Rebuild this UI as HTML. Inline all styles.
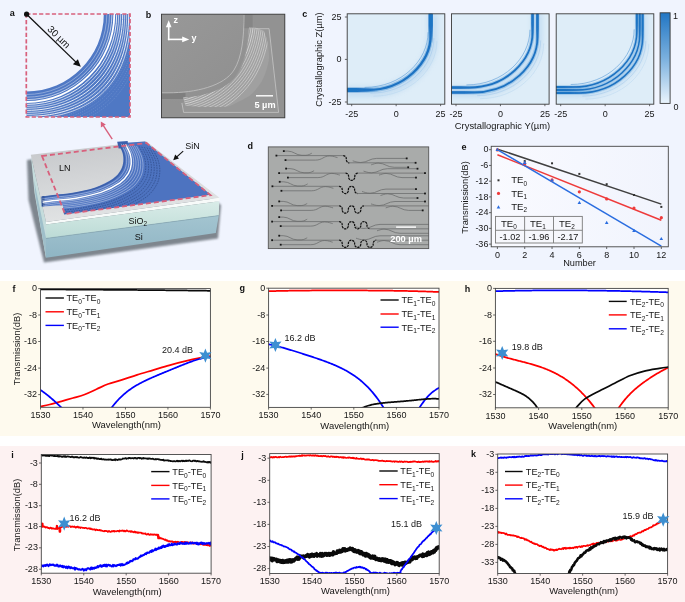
<!DOCTYPE html><html><head><meta charset="utf-8"><style>html,body{margin:0;padding:0;background:#fff;}svg{display:block;will-change:transform;}</style></head><body><svg width="685" height="602" viewBox="0 0 685 602" font-family='"Liberation Sans", sans-serif'>
<defs><filter id="blur1" filterUnits="userSpaceOnUse" x="-50" y="-50" width="800" height="700"><feGaussianBlur stdDeviation="0.7"/></filter><filter id="blur2" filterUnits="userSpaceOnUse" x="-50" y="-50" width="800" height="700"><feGaussianBlur stdDeviation="1.3"/></filter><filter id="blur3" filterUnits="userSpaceOnUse" x="-50" y="-50" width="800" height="700"><feGaussianBlur stdDeviation="2.5"/></filter><filter id="blur05" filterUnits="userSpaceOnUse" x="-50" y="-50" width="800" height="700"><feGaussianBlur stdDeviation="0.45"/></filter><linearGradient id="cbar" x1="0" y1="0" x2="0" y2="1"><stop offset="0" stop-color="#2276c4"/><stop offset="0.5" stop-color="#7ab0de"/><stop offset="1" stop-color="#eaf4fc"/></linearGradient><linearGradient id="topface" x1="0" y1="0" x2="0.3" y2="1"><stop offset="0" stop-color="#c4c6c9"/><stop offset="1" stop-color="#e2e4e5"/></linearGradient><linearGradient id="sio2" x1="0" y1="0" x2="0" y2="1"><stop offset="0" stop-color="#d9ece8"/><stop offset="1" stop-color="#bcdbd6"/></linearGradient><linearGradient id="si" x1="0" y1="0" x2="0" y2="1"><stop offset="0" stop-color="#a3c4d0"/><stop offset="1" stop-color="#8fb5c4"/></linearGradient><linearGradient id="eplot" x1="0" y1="0" x2="1" y2="0"><stop offset="0" stop-color="#f9faff"/><stop offset="1" stop-color="#f1f4fd"/></linearGradient><linearGradient id="semg" x1="0" y1="0" x2="1" y2="1"><stop offset="0" stop-color="#989898"/><stop offset="1" stop-color="#8c8c8c"/></linearGradient></defs>
<rect x="0" y="0" width="685" height="602" fill="#ffffff"/>
<rect x="0" y="0" width="685" height="270" fill="#f0f4fe"/>
<rect x="0" y="281" width="685" height="155" fill="#fefaee"/>
<rect x="0" y="446" width="685" height="156" fill="#fdf2f2"/>
<text x="9.8" y="15.7" font-size="9" text-anchor="start" font-weight="bold" fill="#111" >a</text>
<clipPath id="clipins"><rect x="26.3" y="14.0" width="103.7" height="103.0"/></clipPath>
<rect x="26.3" y="14.0" width="103.7" height="103.0" fill="#f1f4fd"/>
<g clip-path="url(#clipins)">
<path d="M26.3,91.5 C69.10325,91.5 103.8,56.80325 103.8,14.0 L132.0,14.0 L132.0,119.0 L26.3,119.0 Z" fill="#4f78c4"/>
<path d="M26.3,117.0 C88.1,117.0 129.3,75.8 129.3,14.0" fill="none" stroke="#9cb3e0" stroke-width="0.7" stroke-dasharray="1.0,1.4" opacity="0.5"/>
<path d="M26.3,119.3 C90.1,119.3 131.6,77.8 131.6,14.0" fill="none" stroke="#9cb3e0" stroke-width="0.7" stroke-dasharray="1.0,1.4" opacity="0.5"/>
<path d="M26.3,121.6 C92.2,121.6 133.9,79.9 133.9,14.0" fill="none" stroke="#9cb3e0" stroke-width="0.7" stroke-dasharray="1.0,1.4" opacity="0.5"/>
<path d="M26.3,123.9 C94.2,123.9 136.2,81.9 136.2,14.0" fill="none" stroke="#9cb3e0" stroke-width="0.7" stroke-dasharray="1.0,1.4" opacity="0.5"/>
<path d="M26.3,126.2 C96.3,126.2 138.5,84.0 138.5,14.0" fill="none" stroke="#9cb3e0" stroke-width="0.7" stroke-dasharray="1.0,1.4" opacity="0.5"/>
<path d="M26.3,128.5 C98.4,128.5 140.8,86.1 140.8,14.0" fill="none" stroke="#9cb3e0" stroke-width="0.7" stroke-dasharray="1.0,1.4" opacity="0.5"/>
<path d="M26.3,130.8 C100.6,130.8 143.1,88.3 143.1,14.0" fill="none" stroke="#9cb3e0" stroke-width="0.7" stroke-dasharray="1.0,1.4" opacity="0.5"/>
<path d="M26.3,94.50 C70.76,94.50 106.80,58.46 106.80,14.0" fill="none" stroke="#ffffff" stroke-width="0.7" opacity="0.5"/>
<path d="M26.3,97.20 C72.25,97.20 109.50,59.95 109.50,14.0" fill="none" stroke="#ffffff" stroke-width="0.7" opacity="0.6"/>
<path d="M26.3,99.60 C73.58,99.60 111.90,61.28 111.90,14.0" fill="none" stroke="#ffffff" stroke-width="0.8" opacity="0.8"/>
<path d="M26.3,102.00 C74.90,102.00 114.30,62.60 114.30,14.0" fill="none" stroke="#ffffff" stroke-width="1.8" opacity="1.0"/>
<path d="M26.3,104.40 C77.10,104.40 116.70,64.80 116.70,14.0" fill="none" stroke="#ffffff" stroke-width="0.95" opacity="0.9"/>
<path d="M26.3,106.40 C79.38,106.40 118.70,67.08 118.70,14.0" fill="none" stroke="#ffffff" stroke-width="0.7" opacity="0.9"/>
<path d="M26.3,108.40 C81.71,108.40 120.70,69.41 120.70,14.0" fill="none" stroke="#ffffff" stroke-width="0.7" opacity="0.9"/>
<path d="M26.3,110.40 C84.09,110.40 122.70,71.79 122.70,14.0" fill="none" stroke="#ffffff" stroke-width="0.95" opacity="0.9"/>
<path d="M26.3,112.40 C86.52,112.40 124.70,74.22 124.70,14.0" fill="none" stroke="#ffffff" stroke-width="0.7" opacity="0.9"/>
<path d="M26.3,114.40 C89.00,114.40 126.70,76.70 126.70,14.0" fill="none" stroke="#ffffff" stroke-width="0.7" opacity="0.9"/>
<path d="M26.3,116.40 C91.53,116.40 128.70,79.23 128.70,14.0" fill="none" stroke="#ffffff" stroke-width="0.95" opacity="0.9"/>
<path d="M26.3,118.40 C94.11,118.40 130.70,81.81 130.70,14.0" fill="none" stroke="#ffffff" stroke-width="0.7" opacity="0.9"/>
</g>
<rect x="26.3" y="14.0" width="103.7" height="103.0" fill="none" stroke="#d8607c" stroke-width="1.7" stroke-dasharray="4.2,2.2"/>
<circle cx="26.6" cy="14.2" r="2.6" fill="#111"/>
<line x1="26.6" y1="14.2" x2="76.5" y2="62.6" stroke="#111" stroke-width="1.3"/>
<polygon points="80.8,66.8 72.9,64.2 77.9,59.2" fill="#111"/>
<text x="0" y="0" font-size="9.8" fill="#111" text-anchor="middle" transform="translate(56.6,39.4) rotate(44)">30 µm</text>
<line x1="112.2" y1="139.2" x2="103.2" y2="125.4" stroke="#d8607c" stroke-width="1.4"/>
<polygon points="100.8,121.6 100.9,127.6 105.8,124.4" fill="#d8607c"/>
<polygon points="27.00,160.00 140.00,146.00 221.00,205.00 218.00,238.50 44.00,262.50 28.50,200.00" fill="#4f5861" opacity="0.7" filter="url(#blur2)"/>
<polygon points="30.80,154.70 46.00,222.00 46.00,258.00 34.50,193.00" fill="#c5dcdc"/>
<polygon points="34.00,180.00 46.00,238.00 46.00,258.00 35.50,196.00" fill="#9fbfca"/>
<polygon points="46.00,222.00 219.50,197.80 219.30,201.20 46.00,224.60" fill="#f7faf9"/>
<polygon points="46.00,224.60 219.30,201.20 218.80,215.60 46.00,238.40" fill="url(#sio2)"/>
<polygon points="46.00,238.40 218.80,215.60 215.80,233.00 46.00,257.80" fill="url(#si)"/>
<line x1="46" y1="238.4" x2="218.8" y2="215.6" stroke="#7fa2b0" stroke-width="0.6"/>
<polygon points="30.80,154.70 146.00,141.20 219.50,197.80 46.00,222.00" fill="url(#topface)"/>
<clipPath id="clipdev"><path d="M118,143.2 L145,141.6 L210.8,194.8 L64,214.6 L62.8,205.2 L41.8,206.6 L41.6,196.6 C43.83,196.30 49.85,195.43 55.00,194.80 C60.15,194.17 65.78,194.02 72.50,192.80 C79.22,191.58 88.58,189.83 95.30,187.50 C102.02,185.17 108.57,181.72 112.80,178.80 C117.03,175.88 118.95,172.92 120.70,170.00 C122.45,167.08 123.02,164.22 123.30,161.30 C123.58,158.38 123.28,155.52 122.40,152.50 C121.52,149.48 118.73,144.75 118.00,143.20 Z"/></clipPath>
<path d="M118,143.2 L145,141.6 L210.8,194.8 L64,214.6 L62.8,205.2 L41.8,206.6 L41.6,196.6 C43.83,196.30 49.85,195.43 55.00,194.80 C60.15,194.17 65.78,194.02 72.50,192.80 C79.22,191.58 88.58,189.83 95.30,187.50 C102.02,185.17 108.57,181.72 112.80,178.80 C117.03,175.88 118.95,172.92 120.70,170.00 C122.45,167.08 123.02,164.22 123.30,161.30 C123.58,158.38 123.28,155.52 122.40,152.50 C121.52,149.48 118.73,144.75 118.00,143.20 Z" fill="#4d73c0"/>
<polygon points="41.60,196.40 44.50,196.10 44.70,205.90 41.80,206.40" fill="#2c4e92"/>
<polygon points="117.20,141.80 127.70,141.10 128.20,148.10 118.60,148.60" fill="#3a60ad"/>
<g clip-path="url(#clipdev)" fill="none">
<path d="M119.06,143.36 C119.80,144.93 122.61,149.72 123.51,152.77 C124.40,155.82 124.71,158.72 124.42,161.68 C124.13,164.63 123.56,167.53 121.79,170.48 C120.02,173.43 118.08,176.43 113.79,179.39 C109.51,182.34 102.88,185.83 96.08,188.19 C89.29,190.55 79.81,192.32 73.01,193.55 C66.21,194.78 60.51,194.94 55.30,195.58 C50.09,196.22 44.00,197.10 41.74,197.40" stroke="#3c5fa8" stroke-width="1.2"/>
<path d="M121.08,143.66 C121.84,145.27 124.72,150.17 125.63,153.29 C126.55,156.41 126.86,159.38 126.57,162.40 C126.27,165.41 125.69,168.38 123.87,171.40 C122.06,174.42 120.08,177.49 115.70,180.51 C111.32,183.53 104.54,187.10 97.59,189.51 C90.63,191.93 80.94,193.74 73.99,195.00 C67.04,196.26 61.21,196.41 55.88,197.07 C50.54,197.72 44.32,198.62 42.01,198.93" stroke="#dbe5f7" stroke-width="0.6" opacity="0.75"/>
<path d="M123.28,143.99 C124.06,145.63 127.01,150.65 127.94,153.85 C128.88,157.05 129.20,160.09 128.90,163.18 C128.60,166.27 128.00,169.31 126.14,172.40 C124.29,175.49 122.26,178.64 117.77,181.73 C113.28,184.82 106.34,188.48 99.22,190.95 C92.10,193.42 82.17,195.28 75.05,196.57 C67.93,197.86 61.96,198.02 56.50,198.69 C51.04,199.36 44.66,200.28 42.30,200.60" stroke="#ffffff" stroke-width="0.6" opacity="0.75"/>
<path d="M125.48,144.32 C126.28,146.00 129.30,151.14 130.25,154.41 C131.21,157.69 131.54,160.80 131.23,163.96 C130.92,167.13 130.31,170.24 128.41,173.40 C126.51,176.56 124.43,179.78 119.84,182.95 C115.24,186.11 108.14,189.86 100.85,192.39 C93.56,194.92 83.40,196.82 76.11,198.14 C68.82,199.46 62.71,199.62 57.12,200.31 C51.54,201.00 45.01,201.94 42.59,202.26" stroke="#ffffff" stroke-width="1.5" opacity="1.0"/>
<path d="M127.68,144.65 C128.49,146.37 131.58,151.63 132.56,154.97 C133.54,158.32 133.88,161.51 133.56,164.74 C133.25,167.98 132.62,171.16 130.68,174.40 C128.73,177.64 126.61,180.93 121.91,184.17 C117.21,187.41 109.94,191.23 102.48,193.82 C95.03,196.41 84.63,198.36 77.18,199.71 C69.72,201.06 63.47,201.23 57.75,201.93 C52.03,202.63 45.36,203.59 42.88,203.93" stroke="#ffffff" stroke-width="0.6" opacity="0.75"/>
<path d="M129.88,144.98 C130.71,146.74 133.87,152.11 134.87,155.54 C135.88,158.96 136.22,162.22 135.90,165.53 C135.57,168.84 134.93,172.09 132.94,175.40 C130.96,178.71 128.78,182.08 123.98,185.39 C119.17,188.70 111.74,192.61 104.12,195.26 C96.49,197.91 85.86,199.90 78.24,201.28 C70.61,202.66 64.22,202.83 58.38,203.55 C52.53,204.27 45.70,205.25 43.17,205.59" stroke="#dbe5f7" stroke-width="0.6" opacity="0.75"/>
<path d="M132.08,145.31 C132.93,147.11 136.16,152.60 137.18,156.10 C138.21,159.60 138.56,162.92 138.23,166.31 C137.90,169.69 137.24,173.02 135.21,176.40 C133.18,179.78 130.96,183.22 126.05,186.61 C121.14,189.99 113.54,193.99 105.75,196.70 C97.96,199.41 87.09,201.44 79.30,202.85 C71.51,204.26 64.97,204.43 59.00,205.17 C53.03,205.90 46.05,206.91 43.46,207.26" stroke="#dbe5f7" stroke-width="0.6" opacity="0.75"/>
<path d="M134.28,145.64 C135.15,147.48 138.45,153.09 139.49,156.66 C140.54,160.24 140.90,163.63 140.56,167.09 C140.22,170.55 139.55,173.94 137.48,177.40 C135.41,180.86 133.13,184.37 128.12,187.83 C123.10,191.28 115.34,195.37 107.38,198.14 C99.42,200.90 88.32,202.98 80.36,204.42 C72.40,205.86 65.73,206.04 59.62,206.79 C53.52,207.54 46.39,208.57 43.75,208.92" stroke="#dbe5f7" stroke-width="0.6" opacity="0.75"/>
<path d="M136.48,145.97 C137.37,147.85 140.74,153.57 141.80,157.22 C142.87,160.88 143.24,164.34 142.89,167.87 C142.55,171.40 141.86,174.87 139.75,178.40 C137.63,181.93 135.31,185.52 130.19,189.05 C125.07,192.58 117.14,196.75 109.01,199.57 C100.89,202.40 89.55,204.52 81.42,205.99 C73.30,207.46 66.48,207.64 60.25,208.41 C54.02,209.17 46.74,210.22 44.04,210.59" stroke="#dbe5f7" stroke-width="0.6" opacity="0.75"/>
<path d="M139.12,146.37 C140.03,148.29 143.48,154.16 144.58,157.90 C145.67,161.64 146.04,165.20 145.69,168.81 C145.34,172.43 144.64,175.98 142.47,179.60 C140.30,183.22 137.92,186.90 132.67,190.51 C127.42,194.13 119.30,198.41 110.97,201.30 C102.64,204.19 91.03,206.36 82.70,207.87 C74.37,209.38 67.39,209.57 61.00,210.35 C54.61,211.14 47.15,212.21 44.38,212.58" stroke="#27407a" stroke-width="0.75" stroke-dasharray="1.6,1.0" opacity="0.75"/>
<path d="M141.76,146.76 C142.69,148.73 146.23,154.74 147.35,158.57 C148.47,162.41 148.85,166.05 148.49,169.75 C148.13,173.46 147.41,177.10 145.19,180.80 C142.97,184.50 140.53,188.27 135.16,191.98 C129.78,195.68 121.46,200.06 112.93,203.03 C104.40,205.99 92.51,208.21 83.97,209.76 C75.44,211.30 68.29,211.49 61.75,212.30 C55.21,213.10 47.57,214.20 44.73,214.58" stroke="#27407a" stroke-width="0.75" stroke-dasharray="1.6,1.0" opacity="0.75"/>
<path d="M144.40,147.16 C145.35,149.18 148.97,155.33 150.12,159.25 C151.27,163.17 151.66,166.90 151.29,170.69 C150.92,174.48 150.19,178.21 147.91,182.00 C145.64,185.79 143.14,189.65 137.64,193.44 C132.14,197.23 123.62,201.72 114.89,204.75 C106.16,207.78 93.98,210.06 85.25,211.64 C76.52,213.22 69.19,213.42 62.50,214.24 C55.80,215.06 47.98,216.19 45.08,216.58" stroke="#27407a" stroke-width="0.75" stroke-dasharray="1.6,1.0" opacity="0.75"/>
<path d="M147.04,147.56 C148.02,149.62 151.72,155.91 152.89,159.93 C154.07,163.94 154.47,167.75 154.09,171.63 C153.71,175.51 152.96,179.32 150.63,183.20 C148.30,187.08 145.75,191.02 140.12,194.90 C134.49,198.78 125.78,203.37 116.85,206.48 C107.92,209.58 95.46,211.91 86.53,213.52 C77.59,215.14 70.10,215.34 63.25,216.18 C56.40,217.03 48.40,218.18 45.43,218.58" stroke="#27407a" stroke-width="0.75" stroke-dasharray="1.6,1.0" opacity="0.75"/>
<path d="M149.68,147.95 C150.68,150.06 154.46,156.50 155.66,160.60 C156.87,164.70 157.27,168.60 156.89,172.57 C156.50,176.53 155.73,180.43 153.35,184.40 C150.97,188.37 148.37,192.40 142.61,196.37 C136.85,200.33 127.94,205.03 118.81,208.20 C109.67,211.37 96.93,213.75 87.80,215.41 C78.67,217.06 71.00,217.27 64.00,218.13 C57.00,218.99 48.81,220.17 45.78,220.58" stroke="#27407a" stroke-width="0.75" stroke-dasharray="1.6,1.0" opacity="0.75"/>
<path d="M152.32,148.35 C153.34,150.50 157.21,157.08 158.44,161.28 C159.66,165.47 160.08,169.45 159.69,173.51 C159.29,177.56 158.51,181.55 156.07,185.60 C153.64,189.65 150.98,193.78 145.09,197.83 C139.21,201.89 130.10,206.68 120.77,209.93 C111.43,213.17 98.41,215.60 89.07,217.29 C79.74,218.98 71.91,219.19 64.75,220.07 C57.59,220.95 49.23,222.16 46.12,222.57" stroke="#27407a" stroke-width="0.75" stroke-dasharray="1.6,1.0" opacity="0.75"/>
</g>
<polygon points="42.00,156.00 146.50,143.00 210.50,195.20 65.00,214.00" fill="none" stroke="#d8607c" stroke-width="1.8" stroke-dasharray="5,3"/>
<text x="59" y="170.6" font-size="9" text-anchor="start" font-weight="normal" fill="#111" >LN</text>
<text x="185.2" y="149.2" font-size="9" text-anchor="start" font-weight="normal" fill="#111" >SiN</text>
<line x1="183.2" y1="151.2" x2="176.5" y2="157.2" stroke="#111" stroke-width="1.1"/>
<polygon points="173.2,160.2 175.2,154.6 179,158.6" fill="#111"/>
<text x="128.6" y="224.2" font-size="9" fill="#111">SiO<tspan font-size="6.4" dy="1.8">2</tspan></text>
<text x="134.8" y="240.4" font-size="9" text-anchor="start" font-weight="normal" fill="#111" >Si</text>
<text x="145.8" y="18.1" font-size="9" text-anchor="start" font-weight="bold" fill="#111" >b</text>
<clipPath id="clipb"><rect x="161.5" y="14.2" width="123.30000000000001" height="103.6"/></clipPath>
<rect x="161.5" y="14.2" width="123.30000000000001" height="103.6" fill="url(#semg)"/>
<g clip-path="url(#clipb)">
<path d="M181.6,102.6 L183.2,112 L278.8,112 L269.1,28.7 L255.3,28.7 L253,14.2 L284.8,14.2 L284.8,117.8 L161.5,117.8 L161.5,100.5 Z" fill="#929292"/>
<path d="M181.6,102.6 L183.2,112 L278.8,112 L269.1,28.7 L255.3,28.7 L248,28 C247.5,50 242,72 226,88 C212,97 195,99.5 181.6,102.6 Z" fill="#979797"/>
<rect x="161.5" y="92.6" width="24" height="6.4" fill="#7f7f7f"/>
<rect x="243.2" y="14.2" width="9.5" height="14" fill="#868686"/>
<clipPath id="clipblob"><path d="M183,97.5 C200,97 226,91 238,74 C246,62 248.5,42 249,27.5 L256,27.8 L264,31 C267,38 268,44 268.5,50 C269.5,56 269,61 267.5,66 C266,72 264,77 262,81 C258,87 254,92 249.3,96 C244,99 240,101 236,103 C232,105.5 229,106.5 225,106.8 C212,107.5 198,107 185.4,105.5 Z"/></clipPath>
<path d="M183,97.5 C200,97 226,91 238,74 C246,62 248.5,42 249,27.5 L256,27.8 L264,31 C267,38 268,44 268.5,50 C269.5,56 269,61 267.5,66 C266,72 264,77 262,81 C258,87 254,92 249.3,96 C244,99 240,101 236,103 C232,105.5 229,106.5 225,106.8 C212,107.5 198,107 185.4,105.5 Z" fill="#a0a0a0" filter="url(#blur05)"/>
<path d="M161.5,92.8 L168,92.8 C196,92.8 224,86 234,70 C242,57 244,38 244,14.2" fill="none" stroke="#bdbdbd" stroke-width="0.9"/>
<g clip-path="url(#clipblob)" fill="none" stroke-width="0.7">
<path d="M161.5,100.70 C209.94,100.70 248.00,62.64 248.00,14.2" stroke="#e6e6e6"/>
<path d="M161.5,102.70 C211.59,102.70 250.00,64.29 250.00,14.2" stroke="#e6e6e6"/>
<path d="M161.5,104.70 C213.27,104.70 252.00,65.97 252.00,14.2" stroke="#d4d4d4"/>
<path d="M161.5,106.70 C214.97,106.70 254.00,67.67 254.00,14.2" stroke="#e6e6e6"/>
<path d="M161.5,108.70 C216.69,108.70 256.00,69.39 256.00,14.2" stroke="#d4d4d4"/>
<path d="M161.5,110.70 C218.44,110.70 258.00,71.14 258.00,14.2" stroke="#d4d4d4"/>
<path d="M161.5,112.70 C220.21,112.70 260.00,72.91 260.00,14.2" stroke="#d4d4d4"/>
<path d="M161.5,114.70 C222.00,114.70 262.00,74.70 262.00,14.2" stroke="#d4d4d4"/>
<path d="M161.5,116.70 C223.82,116.70 264.00,76.52 264.00,14.2" stroke="#d4d4d4"/>
<path d="M161.5,118.70 C225.66,118.70 266.00,78.36 266.00,14.2" stroke="#d4d4d4"/>
<path d="M161.5,120.70 C227.53,120.70 268.00,80.23 268.00,14.2" stroke="#d4d4d4"/>
<path d="M161.5,122.70 C229.42,122.70 270.00,82.12 270.00,14.2" stroke="#d4d4d4"/>
</g>
<path d="M181.9,103 L183.6,112.4 L278.6,112.4 L269.1,28.7 L255.3,28.7" fill="none" stroke="#cdcdcd" stroke-width="0.7"/>
</g>
<rect x="161.5" y="14.2" width="123.30000000000001" height="103.6" fill="none" stroke="#3a3a3a" stroke-width="0.9"/>
<g stroke="#ffffff" stroke-width="1.6"><line x1="168.7" y1="40.2" x2="168.7" y2="25"/><line x1="167.9" y1="39.4" x2="184" y2="39.4"/></g><polygon points="168.7,20.3 165.9,27.2 171.5,27.2" fill="#fff"/><polygon points="189.2,39.4 182.2,36.6 182.2,42.2" fill="#fff"/>
<text x="173.6" y="22.8" font-size="9" text-anchor="start" font-weight="bold" fill="#fff" >z</text>
<text x="191.4" y="40.8" font-size="9" text-anchor="start" font-weight="bold" fill="#fff" >y</text>
<line x1="256" y1="95.8" x2="273" y2="95.8" stroke="#fff" stroke-width="1.4"/>
<text x="265" y="108" font-size="9.2" text-anchor="middle" font-weight="bold" fill="#fff" >5 µm</text>
<text x="302.2" y="17.2" font-size="9" text-anchor="start" font-weight="bold" fill="#111" >c</text>
<text x="0" y="0" font-size="9.3" fill="#161616" text-anchor="middle" transform="translate(322.4,59.6) rotate(-90)">Crystallographic Z(µm)</text>
<line x1="344.9" y1="17.0" x2="347.2" y2="17.0" stroke="#444" stroke-width="0.8"/>
<text x="341.6" y="19.6" font-size="9" text-anchor="end" font-weight="normal" fill="#161616" >25</text>
<line x1="344.9" y1="59.4" x2="347.2" y2="59.4" stroke="#444" stroke-width="0.8"/>
<text x="341.6" y="62.0" font-size="9" text-anchor="end" font-weight="normal" fill="#161616" >0</text>
<line x1="344.9" y1="102.0" x2="347.2" y2="102.0" stroke="#444" stroke-width="0.8"/>
<text x="341.6" y="104.6" font-size="9" text-anchor="end" font-weight="normal" fill="#161616" >-25</text>
<clipPath id="clipc0"><rect x="347.2" y="13.8" width="97.6" height="90.4"/></clipPath>
<rect x="347.2" y="13.8" width="97.6" height="90.4" fill="#deedf8"/>
<g clip-path="url(#clipc0)" fill="none">
<linearGradient id="gh0" gradientUnits="userSpaceOnUse" x1="357.2" y1="0" x2="379.2" y2="0"><stop offset="0" stop-color="#1f74c4"/><stop offset="1" stop-color="#1f74c4" stop-opacity="0"/></linearGradient>
<linearGradient id="gv0" gradientUnits="userSpaceOnUse" x1="0" y1="25.8" x2="0" y2="43.8"><stop offset="0" stop-color="#1f74c4"/><stop offset="1" stop-color="#1f74c4" stop-opacity="0"/></linearGradient>
<path d="M344.2,90.0 L367.2,90.0 C404.2,90.0 430.7,63.0 430.7,34.8 L430.7,10.8" stroke="#b3d3ee" stroke-width="11" opacity="0.55" filter="url(#blur3)" transform="translate(2,2)"/>
<path d="M344.2,90.0 L367.2,90.0 C404.2,90.0 430.7,63.0 430.7,34.8 L430.7,10.8" stroke="#4f98d8" stroke-width="4.5" opacity="0.45" filter="url(#blur1)" transform="translate(0,0)"/>
<path d="M344.2,90.0 L367.2,90.0 C404.2,90.0 430.7,63.0 430.7,34.8 L430.7,10.8" stroke="#1d72c2" stroke-width="2.3" filter="url(#blur05)" transform="translate(0,0)"/>
<path d="M344.2,90.0 L379.2,90.0" stroke="url(#gh0)" stroke-width="4.4" filter="url(#blur05)" transform="translate(0,0)"/>
<path d="M430.7,43.8 L430.7,10.8" stroke="url(#gv0)" stroke-width="4.4" filter="url(#blur05)" transform="translate(0,0)"/>
<path d="M367.2,90.0 C404.2,90.0 430.7,63.0 430.7,34.8" stroke="#4a92d4" stroke-width="1.0" opacity="0.55" transform="translate(-2.6,-2.6)"/>
<path d="M367.2,90.0 C404.2,90.0 430.7,63.0 430.7,34.8" stroke="#8fbde6" stroke-width="0.9" opacity="0.4" transform="translate(3.2,3.2)"/>
<path d="M367.2,90.0 C404.2,90.0 430.7,63.0 430.7,34.8" stroke="#a6cbeb" stroke-width="0.9" opacity="0.35" transform="translate(6.2,6.2)"/>
</g>
<rect x="347.2" y="13.8" width="97.6" height="90.4" fill="none" stroke="#3a3a3a" stroke-width="0.9"/>
<line x1="351.70" y1="104.2" x2="351.70" y2="106.2" stroke="#444" stroke-width="0.8"/>
<text x="351.70" y="116.6" font-size="9" text-anchor="middle" font-weight="normal" fill="#161616" >-25</text>
<line x1="396.15" y1="104.2" x2="396.15" y2="106.2" stroke="#444" stroke-width="0.8"/>
<text x="396.15" y="116.6" font-size="9" text-anchor="middle" font-weight="normal" fill="#161616" >0</text>
<line x1="440.60" y1="104.2" x2="440.60" y2="106.2" stroke="#444" stroke-width="0.8"/>
<text x="440.60" y="116.6" font-size="9" text-anchor="middle" font-weight="normal" fill="#161616" >25</text>
<clipPath id="clipc1"><rect x="451.5" y="13.8" width="97.6" height="90.4"/></clipPath>
<rect x="451.5" y="13.8" width="97.6" height="90.4" fill="#deedf8"/>
<g clip-path="url(#clipc1)" fill="none">
<linearGradient id="gh1" gradientUnits="userSpaceOnUse" x1="461.5" y1="0" x2="483.5" y2="0"><stop offset="0" stop-color="#1f74c4"/><stop offset="1" stop-color="#1f74c4" stop-opacity="0"/></linearGradient>
<linearGradient id="gv1" gradientUnits="userSpaceOnUse" x1="0" y1="25.8" x2="0" y2="43.8"><stop offset="0" stop-color="#1f74c4"/><stop offset="1" stop-color="#1f74c4" stop-opacity="0"/></linearGradient>
<path d="M448.5,90.0 L471.5,90.0 C508.5,90.0 535.0,63.0 535.0,34.8 L535.0,10.8" stroke="#b3d3ee" stroke-width="11" opacity="0.55" filter="url(#blur3)" transform="translate(2,2)"/>
<path d="M448.5,90.0 L471.5,90.0 C508.5,90.0 535.0,63.0 535.0,34.8 L535.0,10.8" stroke="#4f98d8" stroke-width="4.0" opacity="0.35" filter="url(#blur1)" transform="translate(-2.45,-2.45)"/>
<path d="M448.5,90.0 L471.5,90.0 C508.5,90.0 535.0,63.0 535.0,34.8 L535.0,10.8" stroke="#1d72c2" stroke-width="1.8" filter="url(#blur1)" transform="translate(-2.45,-2.45)"/>
<path d="M448.5,90.0 L483.5,90.0" stroke="url(#gh1)" stroke-width="2.5" filter="url(#blur05)" transform="translate(-2.45,-2.45)"/>
<path d="M535.0,43.8 L535.0,10.8" stroke="url(#gv1)" stroke-width="2.5" filter="url(#blur05)" transform="translate(-2.45,-2.45)"/>
<path d="M448.5,90.0 L471.5,90.0 C508.5,90.0 535.0,63.0 535.0,34.8 L535.0,10.8" stroke="#4f98d8" stroke-width="4.0" opacity="0.35" filter="url(#blur1)" transform="translate(2.45,2.45)"/>
<path d="M448.5,90.0 L471.5,90.0 C508.5,90.0 535.0,63.0 535.0,34.8 L535.0,10.8" stroke="#1d72c2" stroke-width="1.8" filter="url(#blur1)" transform="translate(2.45,2.45)"/>
<path d="M448.5,90.0 L483.5,90.0" stroke="url(#gh1)" stroke-width="2.5" filter="url(#blur05)" transform="translate(2.45,2.45)"/>
<path d="M535.0,43.8 L535.0,10.8" stroke="url(#gv1)" stroke-width="2.5" filter="url(#blur05)" transform="translate(2.45,2.45)"/>
<path d="M471.5,90.0 C508.5,90.0 535.0,63.0 535.0,34.8" stroke="#4a92d4" stroke-width="1.0" opacity="0.55" transform="translate(-5.050000000000001,-5.050000000000001)"/>
<path d="M471.5,90.0 C508.5,90.0 535.0,63.0 535.0,34.8" stroke="#8fbde6" stroke-width="0.9" opacity="0.4" transform="translate(5.65,5.65)"/>
<path d="M471.5,90.0 C508.5,90.0 535.0,63.0 535.0,34.8" stroke="#a6cbeb" stroke-width="0.9" opacity="0.35" transform="translate(8.65,8.65)"/>
</g>
<rect x="451.5" y="13.8" width="97.6" height="90.4" fill="none" stroke="#3a3a3a" stroke-width="0.9"/>
<line x1="456.00" y1="104.2" x2="456.00" y2="106.2" stroke="#444" stroke-width="0.8"/>
<text x="456.00" y="116.6" font-size="9" text-anchor="middle" font-weight="normal" fill="#161616" >-25</text>
<line x1="500.45" y1="104.2" x2="500.45" y2="106.2" stroke="#444" stroke-width="0.8"/>
<text x="500.45" y="116.6" font-size="9" text-anchor="middle" font-weight="normal" fill="#161616" >0</text>
<line x1="544.90" y1="104.2" x2="544.90" y2="106.2" stroke="#444" stroke-width="0.8"/>
<text x="544.90" y="116.6" font-size="9" text-anchor="middle" font-weight="normal" fill="#161616" >25</text>
<clipPath id="clipc2"><rect x="556.2" y="13.8" width="97.6" height="90.4"/></clipPath>
<rect x="556.2" y="13.8" width="97.6" height="90.4" fill="#deedf8"/>
<g clip-path="url(#clipc2)" fill="none">
<linearGradient id="gh2" gradientUnits="userSpaceOnUse" x1="566.2" y1="0" x2="588.2" y2="0"><stop offset="0" stop-color="#1f74c4"/><stop offset="1" stop-color="#1f74c4" stop-opacity="0"/></linearGradient>
<linearGradient id="gv2" gradientUnits="userSpaceOnUse" x1="0" y1="25.8" x2="0" y2="43.8"><stop offset="0" stop-color="#1f74c4"/><stop offset="1" stop-color="#1f74c4" stop-opacity="0"/></linearGradient>
<path d="M553.2,90.0 L576.2,90.0 C613.2,90.0 639.7,63.0 639.7,34.8 L639.7,10.8" stroke="#b3d3ee" stroke-width="11" opacity="0.55" filter="url(#blur3)" transform="translate(2,2)"/>
<path d="M553.2,90.0 L576.2,90.0 C613.2,90.0 639.7,63.0 639.7,34.8 L639.7,10.8" stroke="#4f98d8" stroke-width="3.7" opacity="0.35" filter="url(#blur1)" transform="translate(-2.9,-2.9)"/>
<path d="M553.2,90.0 L576.2,90.0 C613.2,90.0 639.7,63.0 639.7,34.8 L639.7,10.8" stroke="#1d72c2" stroke-width="1.5" filter="url(#blur1)" transform="translate(-2.9,-2.9)"/>
<path d="M553.2,90.0 L588.2,90.0" stroke="url(#gh2)" stroke-width="2.1" filter="url(#blur05)" transform="translate(-2.9,-2.9)"/>
<path d="M639.7,43.8 L639.7,10.8" stroke="url(#gv2)" stroke-width="2.1" filter="url(#blur05)" transform="translate(-2.9,-2.9)"/>
<path d="M553.2,90.0 L576.2,90.0 C613.2,90.0 639.7,63.0 639.7,34.8 L639.7,10.8" stroke="#4f98d8" stroke-width="3.7" opacity="0.35" filter="url(#blur1)" transform="translate(0,0)"/>
<path d="M553.2,90.0 L576.2,90.0 C613.2,90.0 639.7,63.0 639.7,34.8 L639.7,10.8" stroke="#1d72c2" stroke-width="1.5" filter="url(#blur1)" transform="translate(0,0)"/>
<path d="M553.2,90.0 L588.2,90.0" stroke="url(#gh2)" stroke-width="2.1" filter="url(#blur05)" transform="translate(0,0)"/>
<path d="M639.7,43.8 L639.7,10.8" stroke="url(#gv2)" stroke-width="2.1" filter="url(#blur05)" transform="translate(0,0)"/>
<path d="M553.2,90.0 L576.2,90.0 C613.2,90.0 639.7,63.0 639.7,34.8 L639.7,10.8" stroke="#4f98d8" stroke-width="3.7" opacity="0.35" filter="url(#blur1)" transform="translate(2.9,2.9)"/>
<path d="M553.2,90.0 L576.2,90.0 C613.2,90.0 639.7,63.0 639.7,34.8 L639.7,10.8" stroke="#1d72c2" stroke-width="1.5" filter="url(#blur1)" transform="translate(2.9,2.9)"/>
<path d="M553.2,90.0 L588.2,90.0" stroke="url(#gh2)" stroke-width="2.1" filter="url(#blur05)" transform="translate(2.9,2.9)"/>
<path d="M639.7,43.8 L639.7,10.8" stroke="url(#gv2)" stroke-width="2.1" filter="url(#blur05)" transform="translate(2.9,2.9)"/>
<path d="M576.2,90.0 C613.2,90.0 639.7,63.0 639.7,34.8" stroke="#4a92d4" stroke-width="1.0" opacity="0.55" transform="translate(-5.5,-5.5)"/>
<path d="M576.2,90.0 C613.2,90.0 639.7,63.0 639.7,34.8" stroke="#8fbde6" stroke-width="0.9" opacity="0.4" transform="translate(6.1,6.1)"/>
<path d="M576.2,90.0 C613.2,90.0 639.7,63.0 639.7,34.8" stroke="#a6cbeb" stroke-width="0.9" opacity="0.35" transform="translate(9.1,9.1)"/>
</g>
<rect x="556.2" y="13.8" width="97.6" height="90.4" fill="none" stroke="#3a3a3a" stroke-width="0.9"/>
<line x1="560.70" y1="104.2" x2="560.70" y2="106.2" stroke="#444" stroke-width="0.8"/>
<text x="560.70" y="116.6" font-size="9" text-anchor="middle" font-weight="normal" fill="#161616" >-25</text>
<line x1="605.15" y1="104.2" x2="605.15" y2="106.2" stroke="#444" stroke-width="0.8"/>
<text x="605.15" y="116.6" font-size="9" text-anchor="middle" font-weight="normal" fill="#161616" >0</text>
<line x1="649.60" y1="104.2" x2="649.60" y2="106.2" stroke="#444" stroke-width="0.8"/>
<text x="649.60" y="116.6" font-size="9" text-anchor="middle" font-weight="normal" fill="#161616" >25</text>
<text x="454.8" y="128.9" font-size="9.4" text-anchor="start" font-weight="normal" fill="#161616" >Crystallographic Y(µm)</text>
<rect x="660.1" y="12.8" width="10" height="90.6" fill="url(#cbar)" stroke="#3a3a3a" stroke-width="0.9"/>
<text x="673" y="18.8" font-size="9" text-anchor="start" font-weight="normal" fill="#161616" >1</text>
<text x="673.4" y="109.8" font-size="9" text-anchor="start" font-weight="normal" fill="#161616" >0</text>
<text x="247.4" y="149.4" font-size="9" text-anchor="start" font-weight="bold" fill="#111" >d</text>
<clipPath id="clipd"><rect x="268.3" y="146.9" width="160.39999999999998" height="101.69999999999999"/></clipPath>
<rect x="268.3" y="146.9" width="160.39999999999998" height="101.69999999999999" fill="#a9abaa"/>
<g clip-path="url(#clipd)" fill="none" stroke="#6a6b6b" stroke-width="0.75">
<path d="M276.4,155.6 L343.2,155.6"/>
<path d="M283.8,151.1 L287.8,151.1 C293.8,151.1 295.8,155.2 301.8,155.29999999999998 L305.8,155.29999999999998 C308.8,155.2 310.8,153.6 311.8,153.2"/>
<path d="M285.5,160.1 L315.5,160.1 C322.5,160.1 323.5,156.0 329.5,155.9 C333.5,156.0 335.5,157.2 337.5,157.6"/>
<path d="M343.2,155.6 a3.1,3.1 0 0 1 3.1,3.1 v1.0 a3.1,3.1 0 0 0 3.1,3.1" stroke="#111" stroke-width="1.25" stroke-dasharray="2.3,0.8"/>
<path d="M349.4,162.79999999999998 L415.6,162.79999999999998"/>
<path d="M406.7,158.39999999999998 L376.7,158.39999999999998 C369.7,158.39999999999998 367.7,162.39999999999998 360.7,162.49999999999997 C356.7,162.39999999999998 354.7,161.29999999999998 352.7,160.79999999999998"/>
<path d="M408.2,167.29999999999998 L394.2,167.29999999999998 C387.2,167.29999999999998 385.2,163.2 378.2,163.1 C375.2,163.2 373.2,164.29999999999998 371.2,164.79999999999998"/>
<path d="M279.1,173.1 L345.5,173.1"/>
<path d="M286.1,168.6 L290.1,168.6 C296.1,168.6 298.1,172.7 304.1,172.79999999999998 L308.1,172.79999999999998 C311.1,172.7 313.1,171.1 314.1,170.7"/>
<path d="M287.9,177.6 L317.9,177.6 C324.9,177.6 325.9,173.5 331.9,173.4 C335.9,173.5 337.9,174.7 339.9,175.1"/>
<path d="M345.5,173.1 a3.1,3.1 0 0 1 3.1,3.1 v1.0 a3.1,3.1 0 0 0 3.1,3.1 a3.1,3.1 0 0 0 3.1,-3.1 v-1.0 a3.1,3.1 0 0 1 3.1,-3.1" stroke="#111" stroke-width="1.25" stroke-dasharray="2.3,0.8"/>
<path d="M357.9,173.1 L425.0,173.1"/>
<path d="M417.5,168.7 L387.5,168.7 C380.5,168.7 378.5,172.7 371.5,172.79999999999998 C367.5,172.7 365.5,171.6 363.5,171.1"/>
<path d="M416.0,177.6 L402.0,177.6 C395.0,177.6 393.0,173.5 386.0,173.4 C383.0,173.5 381.0,174.6 379.0,175.1"/>
<path d="M272.4,186.3 L339.1,186.3"/>
<path d="M279.7,181.8 L283.7,181.8 C289.7,181.8 291.7,185.9 297.7,186.0 L301.7,186.0 C304.7,185.9 306.7,184.3 307.7,183.9"/>
<path d="M281.4,190.8 L311.4,190.8 C318.4,190.8 319.4,186.70000000000002 325.4,186.60000000000002 C329.4,186.70000000000002 331.4,187.9 333.4,188.3"/>
<path d="M339.1,186.3 a3.1,3.1 0 0 1 3.1,3.1 v1.0 a3.1,3.1 0 0 0 3.1,3.1 a3.1,3.1 0 0 0 3.1,-3.1 v-1.0 a3.1,3.1 0 0 1 3.1,-3.1 a3.1,3.1 0 0 1 3.1,3.1 v1.0 a3.1,3.1 0 0 0 3.1,3.1" stroke="#111" stroke-width="1.25" stroke-dasharray="2.3,0.8"/>
<path d="M357.70000000000005,193.5 L425.0,193.5"/>
<path d="M416.0,189.1 L386.0,189.1 C379.0,189.1 377.0,193.1 370.0,193.2 C366.0,193.1 364.0,192.0 362.0,191.5"/>
<path d="M417.5,198.0 L403.5,198.0 C396.5,198.0 394.5,193.9 387.5,193.8 C384.5,193.9 382.5,195.0 380.5,195.5"/>
<path d="M272.1,205.9 L339.1,205.9"/>
<path d="M279.2,201.4 L283.2,201.4 C289.2,201.4 291.2,205.5 297.2,205.6 L301.2,205.6 C304.2,205.5 306.2,203.9 307.2,203.5"/>
<path d="M281.1,210.4 L311.1,210.4 C318.1,210.4 319.1,206.3 325.1,206.20000000000002 C329.1,206.3 331.1,207.5 333.1,207.9"/>
<path d="M339.1,205.9 a3.1,3.1 0 0 1 3.1,3.1 v1.0 a3.1,3.1 0 0 0 3.1,3.1 a3.1,3.1 0 0 0 3.1,-3.1 v-1.0 a3.1,3.1 0 0 1 3.1,-3.1 a3.1,3.1 0 0 1 3.1,3.1 v1.0 a3.1,3.1 0 0 0 3.1,3.1 a3.1,3.1 0 0 0 3.1,-3.1 v-1.0 a3.1,3.1 0 0 1 3.1,-3.1" stroke="#111" stroke-width="1.25" stroke-dasharray="2.3,0.8"/>
<path d="M363.90000000000003,205.9 L430.7,205.9"/>
<path d="M425.0,201.5 L395.0,201.5 C388.0,201.5 386.0,205.5 379.0,205.6 C375.0,205.5 373.0,204.4 371.0,203.9"/>
<path d="M422.7,210.4 L408.7,210.4 C401.7,210.4 399.7,206.3 392.7,206.20000000000002 C389.7,206.3 387.7,207.4 385.7,207.9"/>
<path d="M272.1,221.6 L339.1,221.6"/>
<path d="M279.2,217.1 L283.2,217.1 C289.2,217.1 291.2,221.2 297.2,221.29999999999998 L301.2,221.29999999999998 C304.2,221.2 306.2,219.6 307.2,219.2"/>
<path d="M280.7,226.1 L310.7,226.1 C317.7,226.1 318.7,222.0 324.7,221.9 C328.7,222.0 330.7,223.2 332.7,223.6"/>
<path d="M339.1,221.6 a3.1,3.1 0 0 1 3.1,3.1 v1.0 a3.1,3.1 0 0 0 3.1,3.1 a3.1,3.1 0 0 0 3.1,-3.1 v-1.0 a3.1,3.1 0 0 1 3.1,-3.1 a3.1,3.1 0 0 1 3.1,3.1 v1.0 a3.1,3.1 0 0 0 3.1,3.1 a3.1,3.1 0 0 0 3.1,-3.1 v-1.0 a3.1,3.1 0 0 1 3.1,-3.1 a3.1,3.1 0 0 1 3.1,3.1 v1.0 a3.1,3.1 0 0 0 3.1,3.1" stroke="#111" stroke-width="1.25" stroke-dasharray="2.3,0.8"/>
<path d="M370.1,228.79999999999998 L430.7,228.79999999999998"/>
<path d="M430.7,224.39999999999998 L380,224.39999999999998 C373,224.39999999999998 371,228.39999999999998 364,228.49999999999997 C360,228.39999999999998 358,227.29999999999998 356,226.79999999999998"/>
<path d="M430.7,233.29999999999998 L400,233.29999999999998 C393,233.29999999999998 391,229.2 384,229.1 C381,229.2 379,230.29999999999998 377,230.79999999999998"/>
<path d="M272.1,240.2 L339.1,240.2"/>
<path d="M279.2,235.7 L283.2,235.7 C289.2,235.7 291.2,239.79999999999998 297.2,239.89999999999998 L301.2,239.89999999999998 C304.2,239.79999999999998 306.2,238.2 307.2,237.79999999999998"/>
<path d="M280.7,244.7 L310.7,244.7 C317.7,244.7 318.7,240.6 324.7,240.5 C328.7,240.6 330.7,241.79999999999998 332.7,242.2"/>
<path d="M339.1,240.2 a3.1,3.1 0 0 1 3.1,3.1 v1.0 a3.1,3.1 0 0 0 3.1,3.1 a3.1,3.1 0 0 0 3.1,-3.1 v-1.0 a3.1,3.1 0 0 1 3.1,-3.1 a3.1,3.1 0 0 1 3.1,3.1 v1.0 a3.1,3.1 0 0 0 3.1,3.1 a3.1,3.1 0 0 0 3.1,-3.1 v-1.0 a3.1,3.1 0 0 1 3.1,-3.1 a3.1,3.1 0 0 1 3.1,3.1 v1.0 a3.1,3.1 0 0 0 3.1,3.1 a3.1,3.1 0 0 0 3.1,-3.1 v-1.0 a3.1,3.1 0 0 1 3.1,-3.1" stroke="#111" stroke-width="1.25" stroke-dasharray="2.3,0.8"/>
<path d="M376.3,240.2 L430.7,240.2"/>
<path d="M430.7,235.79999999999998 L380,235.79999999999998 C373,235.79999999999998 371,239.79999999999998 364,239.89999999999998 C360,239.79999999999998 358,238.7 356,238.2"/>
<path d="M430.7,244.7 L400,244.7 C393,244.7 391,240.6 384,240.5 C381,240.6 379,241.7 377,242.2"/>
</g>
<rect x="282.90" y="150.20" width="1.8" height="1.8" fill="#161616"/>
<rect x="275.50" y="154.70" width="1.8" height="1.8" fill="#161616"/>
<rect x="284.60" y="159.20" width="1.8" height="1.8" fill="#161616"/>
<rect x="414.70" y="161.90" width="1.8" height="1.8" fill="#161616"/>
<rect x="405.80" y="157.50" width="1.8" height="1.8" fill="#161616"/>
<rect x="407.30" y="166.40" width="1.8" height="1.8" fill="#161616"/>
<rect x="285.20" y="167.70" width="1.8" height="1.8" fill="#161616"/>
<rect x="278.20" y="172.20" width="1.8" height="1.8" fill="#161616"/>
<rect x="287.00" y="176.70" width="1.8" height="1.8" fill="#161616"/>
<rect x="424.10" y="172.20" width="1.8" height="1.8" fill="#161616"/>
<rect x="416.60" y="167.80" width="1.8" height="1.8" fill="#161616"/>
<rect x="415.10" y="176.70" width="1.8" height="1.8" fill="#161616"/>
<rect x="278.80" y="180.90" width="1.8" height="1.8" fill="#161616"/>
<rect x="271.50" y="185.40" width="1.8" height="1.8" fill="#161616"/>
<rect x="280.50" y="189.90" width="1.8" height="1.8" fill="#161616"/>
<rect x="424.10" y="192.60" width="1.8" height="1.8" fill="#161616"/>
<rect x="415.10" y="188.20" width="1.8" height="1.8" fill="#161616"/>
<rect x="416.60" y="197.10" width="1.8" height="1.8" fill="#161616"/>
<rect x="278.30" y="200.50" width="1.8" height="1.8" fill="#161616"/>
<rect x="271.20" y="205.00" width="1.8" height="1.8" fill="#161616"/>
<rect x="280.20" y="209.50" width="1.8" height="1.8" fill="#161616"/>
<rect x="424.10" y="200.60" width="1.8" height="1.8" fill="#161616"/>
<rect x="421.80" y="209.50" width="1.8" height="1.8" fill="#161616"/>
<rect x="278.30" y="216.20" width="1.8" height="1.8" fill="#161616"/>
<rect x="271.20" y="220.70" width="1.8" height="1.8" fill="#161616"/>
<rect x="279.80" y="225.20" width="1.8" height="1.8" fill="#161616"/>
<rect x="278.30" y="234.80" width="1.8" height="1.8" fill="#161616"/>
<rect x="271.20" y="239.30" width="1.8" height="1.8" fill="#161616"/>
<rect x="279.80" y="243.80" width="1.8" height="1.8" fill="#161616"/>
<rect x="268.3" y="146.9" width="160.39999999999998" height="101.69999999999999" fill="none" stroke="#555" stroke-width="0.9"/>
<line x1="396.1" y1="227.1" x2="416" y2="227.1" stroke="#fff" stroke-width="1.4"/>
<text x="406.1" y="242.4" font-size="9.3" text-anchor="middle" font-weight="bold" fill="#fff" >200 µm</text>
<text x="461.4" y="149.8" font-size="9" text-anchor="start" font-weight="bold" fill="#111" >e</text>
<clipPath id="clipe"><rect x="491.2" y="146.3" width="177.09999999999997" height="100.5"/></clipPath>
<rect x="491.2" y="146.3" width="177.09999999999997" height="100.5" fill="url(#eplot)"/>
<g clip-path="url(#clipe)">
<line x1="497.4" y1="149.1" x2="661.3199999999999" y2="204.1" stroke="#404040" stroke-width="1.5"/>
<line x1="497.4" y1="154.7" x2="661.3199999999999" y2="220.3" stroke="#ee3b3b" stroke-width="1.5"/>
<line x1="497.4" y1="149.7" x2="661.3199999999999" y2="246.1" stroke="#2a6de0" stroke-width="1.5"/>
<rect x="496.40" y="148.70" width="2" height="2" fill="#333"/>
<circle cx="497.40" cy="149.90" r="1.6" fill="#ee3b3b"/>
<polygon points="497.40,147.80 495.60,151.00 499.20,151.00" fill="#2a6de0"/>
<rect x="523.72" y="160.10" width="2" height="2" fill="#333"/>
<circle cx="524.72" cy="163.70" r="1.6" fill="#ee3b3b"/>
<polygon points="524.72,160.80 522.92,164.00 526.52,164.00" fill="#2a6de0"/>
<rect x="551.04" y="162.30" width="2" height="2" fill="#333"/>
<circle cx="552.04" cy="179.90" r="1.6" fill="#ee3b3b"/>
<polygon points="552.04,178.40 550.24,181.60 553.84,181.60" fill="#2a6de0"/>
<rect x="578.36" y="172.90" width="2" height="2" fill="#333"/>
<circle cx="579.36" cy="191.80" r="1.6" fill="#ee3b3b"/>
<polygon points="579.36,200.70 577.56,203.90 581.16,203.90" fill="#2a6de0"/>
<rect x="605.68" y="183.20" width="2" height="2" fill="#333"/>
<circle cx="606.68" cy="198.90" r="1.6" fill="#ee3b3b"/>
<polygon points="606.68,220.70 604.88,223.90 608.48,223.90" fill="#2a6de0"/>
<rect x="633.00" y="194.00" width="2" height="2" fill="#333"/>
<circle cx="634.00" cy="208.00" r="1.6" fill="#ee3b3b"/>
<polygon points="634.00,228.70 632.20,231.90 635.80,231.90" fill="#2a6de0"/>
<rect x="660.32" y="205.90" width="2" height="2" fill="#333"/>
<circle cx="661.32" cy="217.70" r="1.6" fill="#ee3b3b"/>
<polygon points="661.32,236.90 659.52,240.10 663.12,240.10" fill="#2a6de0"/>
</g>
<rect x="491.2" y="146.3" width="177.09999999999997" height="100.5" fill="none" stroke="#444" stroke-width="0.9"/>
<line x1="489.0" y1="149.70" x2="491.2" y2="149.70" stroke="#444" stroke-width="0.8"/>
<text x="488.4" y="152.30" font-size="9" text-anchor="end" font-weight="normal" fill="#161616" >0</text>
<line x1="489.0" y1="165.44" x2="491.2" y2="165.44" stroke="#444" stroke-width="0.8"/>
<text x="488.4" y="168.03" font-size="9" text-anchor="end" font-weight="normal" fill="#161616" >-6</text>
<line x1="489.0" y1="181.17" x2="491.2" y2="181.17" stroke="#444" stroke-width="0.8"/>
<text x="488.4" y="183.77" font-size="9" text-anchor="end" font-weight="normal" fill="#161616" >-12</text>
<line x1="489.0" y1="196.90" x2="491.2" y2="196.90" stroke="#444" stroke-width="0.8"/>
<text x="488.4" y="199.50" font-size="9" text-anchor="end" font-weight="normal" fill="#161616" >-18</text>
<line x1="489.0" y1="212.64" x2="491.2" y2="212.64" stroke="#444" stroke-width="0.8"/>
<text x="488.4" y="215.24" font-size="9" text-anchor="end" font-weight="normal" fill="#161616" >-24</text>
<line x1="489.0" y1="228.38" x2="491.2" y2="228.38" stroke="#444" stroke-width="0.8"/>
<text x="488.4" y="230.97" font-size="9" text-anchor="end" font-weight="normal" fill="#161616" >-30</text>
<line x1="489.0" y1="244.11" x2="491.2" y2="244.11" stroke="#444" stroke-width="0.8"/>
<text x="488.4" y="246.71" font-size="9" text-anchor="end" font-weight="normal" fill="#161616" >-36</text>
<line x1="497.40" y1="246.8" x2="497.40" y2="249.0" stroke="#444" stroke-width="0.8"/>
<text x="497.40" y="258.2" font-size="9" text-anchor="middle" font-weight="normal" fill="#161616" >0</text>
<line x1="524.72" y1="246.8" x2="524.72" y2="249.0" stroke="#444" stroke-width="0.8"/>
<text x="524.72" y="258.2" font-size="9" text-anchor="middle" font-weight="normal" fill="#161616" >2</text>
<line x1="552.04" y1="246.8" x2="552.04" y2="249.0" stroke="#444" stroke-width="0.8"/>
<text x="552.04" y="258.2" font-size="9" text-anchor="middle" font-weight="normal" fill="#161616" >4</text>
<line x1="579.36" y1="246.8" x2="579.36" y2="249.0" stroke="#444" stroke-width="0.8"/>
<text x="579.36" y="258.2" font-size="9" text-anchor="middle" font-weight="normal" fill="#161616" >6</text>
<line x1="606.68" y1="246.8" x2="606.68" y2="249.0" stroke="#444" stroke-width="0.8"/>
<text x="606.68" y="258.2" font-size="9" text-anchor="middle" font-weight="normal" fill="#161616" >8</text>
<line x1="634.00" y1="246.8" x2="634.00" y2="249.0" stroke="#444" stroke-width="0.8"/>
<text x="634.00" y="258.2" font-size="9" text-anchor="middle" font-weight="normal" fill="#161616" >10</text>
<line x1="661.32" y1="246.8" x2="661.32" y2="249.0" stroke="#444" stroke-width="0.8"/>
<text x="661.32" y="258.2" font-size="9" text-anchor="middle" font-weight="normal" fill="#161616" >12</text>
<text x="579.5" y="266.2" font-size="9.2" text-anchor="middle" font-weight="normal" fill="#161616" >Number</text>
<text x="0" y="0" font-size="9.3" fill="#161616" text-anchor="middle" transform="translate(467.6,197.5) rotate(-90)">Transmission(dB)</text>
<rect x="497.5" y="179.3" width="2" height="2" fill="#333"/>
<circle cx="498.5" cy="193.4" r="1.6" fill="#ee3b3b"/>
<polygon points="498.5,205.3 496.7,208.5 500.3,208.5" fill="#2a6de0"/>
<text x="511.2" y="183.4" font-size="9.6" fill="#161616">TE<tspan font-size="6.4" dy="2.2">0</tspan></text>
<text x="511.2" y="197" font-size="9.6" fill="#161616">TE<tspan font-size="6.4" dy="2.2">1</tspan></text>
<text x="511.2" y="210.1" font-size="9.6" fill="#161616">TE<tspan font-size="6.4" dy="2.2">2</tspan></text>
<rect x="495.5" y="216.4" width="86.8" height="26.6" fill="#f6f7fc" stroke="#7a7a7a" stroke-width="0.9"/>
<line x1="495.5" y1="230.3" x2="582.3" y2="230.3" stroke="#7a7a7a" stroke-width="0.9"/>
<line x1="524.6" y1="216.4" x2="524.6" y2="243" stroke="#7a7a7a" stroke-width="0.9"/>
<line x1="553.5" y1="216.4" x2="553.5" y2="243" stroke="#7a7a7a" stroke-width="0.9"/>
<text x="508.8" y="226.9" font-size="9.6" fill="#161616" text-anchor="middle">TE<tspan font-size="6.4" dy="2.2">0</tspan></text>
<text x="510" y="240.4" font-size="9.2" text-anchor="middle" font-weight="normal" fill="#161616" >-1.02</text>
<text x="537.8" y="226.9" font-size="9.6" fill="#161616" text-anchor="middle">TE<tspan font-size="6.4" dy="2.2">1</tspan></text>
<text x="539" y="240.4" font-size="9.2" text-anchor="middle" font-weight="normal" fill="#161616" >-1.96</text>
<text x="566.8" y="226.9" font-size="9.6" fill="#161616" text-anchor="middle">TE<tspan font-size="6.4" dy="2.2">2</tspan></text>
<text x="568" y="240.4" font-size="9.2" text-anchor="middle" font-weight="normal" fill="#161616" >-2.17</text>
<clipPath id="clip0"><rect x="40.5" y="288.6" width="169.9" height="118.69999999999999"/></clipPath>
<rect x="40.5" y="288.6" width="169.9" height="118.69999999999999" fill="#ffffff"/>
<g clip-path="url(#clip0)" fill="none" stroke-linejoin="round" stroke-linecap="round">
<path d="M40.50,289.30 L41.30,289.31 L42.10,289.31 L42.90,289.32 L43.70,289.33 L44.50,289.34 L45.30,289.34 L46.10,289.35 L46.90,289.36 L47.70,289.36 L48.50,289.37 L49.30,289.38 L50.10,289.38 L50.90,289.39 L51.70,289.40 L52.50,289.40 L53.30,289.41 L54.10,289.42 L54.90,289.42 L55.70,289.43 L56.50,289.44 L57.30,289.44 L58.10,289.45 L58.90,289.45 L59.70,289.46 L60.50,289.47 L61.30,289.47 L62.10,289.48 L62.90,289.48 L63.70,289.49 L64.50,289.49 L65.30,289.50 L66.10,289.51 L66.90,289.51 L67.70,289.52 L68.50,289.52 L69.30,289.53 L70.10,289.53 L70.90,289.54 L71.70,289.54 L72.50,289.55 L73.30,289.56 L74.10,289.56 L74.90,289.57 L75.70,289.57 L76.50,289.58 L77.30,289.58 L78.10,289.59 L78.90,289.59 L79.70,289.60 L80.50,289.60 L81.30,289.61 L82.10,289.61 L82.90,289.62 L83.70,289.62 L84.50,289.63 L85.30,289.63 L86.10,289.64 L86.90,289.64 L87.70,289.65 L88.50,289.65 L89.30,289.66 L90.10,289.67 L90.90,289.67 L91.70,289.68 L92.50,289.68 L93.30,289.69 L94.10,289.69 L94.90,289.70 L95.70,289.70 L96.50,289.71 L97.30,289.71 L98.10,289.72 L98.90,289.72 L99.70,289.73 L100.50,289.73 L101.30,289.74 L102.10,289.74 L102.90,289.75 L103.70,289.75 L104.50,289.76 L105.30,289.76 L106.10,289.77 L106.90,289.77 L107.70,289.78 L108.50,289.78 L109.30,289.79 L110.10,289.80 L110.90,289.80 L111.70,289.81 L112.50,289.81 L113.30,289.82 L114.10,289.82 L114.90,289.83 L115.70,289.83 L116.50,289.84 L117.30,289.84 L118.10,289.85 L118.90,289.86 L119.70,289.86 L120.50,289.87 L121.30,289.87 L122.10,289.88 L122.90,289.88 L123.70,289.89 L124.50,289.90 L125.30,289.90 L126.10,289.91 L126.90,289.91 L127.70,289.92 L128.50,289.93 L129.30,289.93 L130.10,289.94 L130.90,289.94 L131.70,289.95 L132.50,289.96 L133.30,289.96 L134.10,289.97 L134.90,289.98 L135.70,289.98 L136.50,289.99 L137.30,290.00 L138.10,290.00 L138.90,290.01 L139.70,290.01 L140.50,290.02 L141.30,290.03 L142.10,290.03 L142.90,290.04 L143.70,290.05 L144.50,290.06 L145.30,290.06 L146.10,290.07 L146.90,290.08 L147.70,290.08 L148.50,290.09 L149.30,290.10 L150.10,290.10 L150.90,290.11 L151.70,290.12 L152.50,290.13 L153.30,290.13 L154.10,290.14 L154.90,290.15 L155.70,290.16 L156.50,290.16 L157.30,290.17 L158.10,290.18 L158.90,290.19 L159.70,290.19 L160.50,290.20 L161.30,290.21 L162.10,290.22 L162.90,290.23 L163.70,290.23 L164.50,290.24 L165.30,290.25 L166.10,290.26 L166.90,290.27 L167.70,290.28 L168.50,290.28 L169.30,290.29 L170.10,290.30 L170.90,290.31 L171.70,290.32 L172.50,290.33 L173.30,290.34 L174.10,290.34 L174.90,290.35 L175.70,290.36 L176.50,290.37 L177.30,290.38 L178.10,290.39 L178.90,290.40 L179.70,290.41 L180.50,290.42 L181.30,290.43 L182.10,290.44 L182.90,290.44 L183.70,290.45 L184.50,290.46 L185.30,290.47 L186.10,290.48 L186.90,290.49 L187.70,290.50 L188.50,290.51 L189.30,290.52 L190.10,290.53 L190.90,290.54 L191.70,290.55 L192.50,290.56 L193.30,290.57 L194.10,290.58 L194.90,290.59 L195.70,290.60 L196.50,290.61 L197.30,290.62 L198.10,290.63 L198.90,290.64 L199.70,290.65 L200.50,290.66 L201.30,290.68 L202.10,290.69 L202.90,290.70 L203.70,290.71 L204.50,290.72 L205.30,290.73 L206.10,290.74 L206.90,290.75 L207.70,290.76 L208.50,290.77 L209.30,290.78 L210.10,290.80 L210.40,290.80" stroke="#0a0a0a" stroke-width="1.75"/>
<path d="M39.00,406.70 C39.32,406.65 39.12,406.77 40.90,406.40 C42.68,406.03 46.28,405.35 49.70,404.50 C53.12,403.65 57.52,402.38 61.40,401.30 C65.28,400.22 69.12,399.13 73.00,398.00 C76.88,396.87 80.80,395.95 84.70,394.50 C88.60,393.05 92.50,391.05 96.40,389.30 C100.30,387.55 103.98,385.52 108.10,384.00 C112.22,382.48 116.27,381.72 121.10,380.20 C125.93,378.68 131.75,376.58 137.10,374.90 C142.45,373.22 147.85,371.70 153.20,370.10 C158.55,368.50 163.85,366.78 169.20,365.30 C174.55,363.82 179.93,362.47 185.30,361.20 C190.67,359.93 197.25,358.55 201.40,357.70 C205.55,356.85 208.43,356.42 210.20,356.10 C211.97,355.78 211.70,355.85 212.00,355.80" stroke="#ff0000" stroke-width="1.75"/>
<path d="M38.00,388.62 L38.80,389.07 L39.60,389.55 L40.40,390.05 L41.20,390.56 L42.00,391.09 L42.80,391.64 L43.60,392.20 L44.40,392.78 L45.20,393.37 L46.00,393.98 L46.80,394.60 L47.60,395.24 L48.40,395.88 L49.20,396.54 L50.00,397.21 L50.80,397.89 L51.60,398.57 L52.40,399.27 L53.20,399.97 L54.00,400.68 L54.80,401.40 L55.60,402.12 L56.40,402.85 L57.20,403.58 L58.00,404.32 L58.80,405.06 L59.60,405.80 L60.40,406.54 L61.20,407.29 L62.00,408.03 L62.80,408.77 L63.00,408.96" stroke="#0000ff" stroke-width="1.75"/>
<path d="M110.50,409.27 L111.30,408.17 L112.10,407.09 L112.90,406.04 L113.70,405.03 L114.50,404.04 L115.30,403.08 L116.10,402.15 L116.90,401.24 L117.70,400.36 L118.50,399.50 L119.30,398.67 L120.10,397.87 L120.90,397.08 L121.70,396.32 L122.50,395.58 L123.30,394.85 L124.10,394.15 L124.90,393.47 L125.70,392.81 L126.50,392.16 L127.30,391.53 L128.10,390.92 L128.90,390.32 L129.70,389.74 L130.50,389.17 L131.30,388.62 L132.10,388.08 L132.90,387.56 L133.70,387.04 L134.50,386.54 L135.30,386.05 L136.10,385.57 L136.90,385.10 L137.70,384.64 L138.50,384.19 L139.30,383.75 L140.10,383.32 L140.90,382.90 L141.70,382.48 L142.50,382.07 L143.30,381.67 L144.10,381.27 L144.90,380.88 L145.70,380.49 L146.50,380.11 L147.30,379.74 L148.10,379.37 L148.90,379.00 L149.70,378.64 L150.50,378.28 L151.30,377.93 L152.10,377.57 L152.90,377.23 L153.70,376.88 L154.50,376.53 L155.30,376.19 L156.10,375.85 L156.90,375.51 L157.70,375.18 L158.50,374.84 L159.30,374.50 L160.10,374.17 L160.90,373.84 L161.70,373.51 L162.50,373.17 L163.30,372.84 L164.10,372.51 L164.90,372.18 L165.70,371.85 L166.50,371.52 L167.30,371.19 L168.10,370.86 L168.90,370.53 L169.70,370.20 L170.50,369.87 L171.30,369.54 L172.10,369.21 L172.90,368.88 L173.70,368.55 L174.50,368.22 L175.30,367.89 L176.10,367.57 L176.90,367.24 L177.70,366.91 L178.50,366.58 L179.30,366.26 L180.10,365.93 L180.90,365.61 L181.70,365.29 L182.50,364.97 L183.30,364.65 L184.10,364.33 L184.90,364.01 L185.70,363.70 L186.50,363.39 L187.30,363.08 L188.10,362.78 L188.90,362.48 L189.70,362.18 L190.50,361.89 L191.30,361.60 L192.10,361.31 L192.90,361.03 L193.70,360.76 L194.50,360.49 L195.30,360.23 L196.10,359.97 L196.90,359.72 L197.70,359.48 L198.50,359.24 L199.30,359.02 L200.10,358.80 L200.90,358.59 L201.70,358.39 L202.50,358.20 L203.30,358.02 L204.10,357.85 L204.90,357.69 L205.70,357.55 L206.50,357.42 L207.30,357.29 L208.10,357.19 L208.90,357.10 L209.70,357.02 L210.50,356.96 L211.30,356.91 L212.00,356.88" stroke="#0000ff" stroke-width="1.75"/>
</g>
<rect x="40.5" y="288.6" width="169.9" height="118.69999999999999" fill="none" stroke="#454545" stroke-width="0.9"/>
<line x1="38.2" y1="288.6" x2="40.5" y2="288.6" stroke="#454545" stroke-width="0.8"/>
<text x="37.1" y="291.20000000000005" font-size="9" text-anchor="end" font-weight="normal" fill="#161616" >0</text>
<line x1="38.2" y1="315" x2="40.5" y2="315" stroke="#454545" stroke-width="0.8"/>
<text x="37.1" y="317.6" font-size="9" text-anchor="end" font-weight="normal" fill="#161616" >-8</text>
<line x1="38.2" y1="341.5" x2="40.5" y2="341.5" stroke="#454545" stroke-width="0.8"/>
<text x="37.1" y="344.1" font-size="9" text-anchor="end" font-weight="normal" fill="#161616" >-16</text>
<line x1="38.2" y1="368.1" x2="40.5" y2="368.1" stroke="#454545" stroke-width="0.8"/>
<text x="37.1" y="370.70000000000005" font-size="9" text-anchor="end" font-weight="normal" fill="#161616" >-24</text>
<line x1="38.2" y1="394.6" x2="40.5" y2="394.6" stroke="#454545" stroke-width="0.8"/>
<text x="37.1" y="397.20000000000005" font-size="9" text-anchor="end" font-weight="normal" fill="#161616" >-32</text>
<line x1="40.50" y1="407.3" x2="40.50" y2="409.5" stroke="#454545" stroke-width="0.8"/>
<text x="40.50" y="418.1" font-size="9" text-anchor="middle" font-weight="normal" fill="#161616" >1530</text>
<line x1="82.97" y1="407.3" x2="82.97" y2="409.5" stroke="#454545" stroke-width="0.8"/>
<text x="82.97" y="418.1" font-size="9" text-anchor="middle" font-weight="normal" fill="#161616" >1540</text>
<line x1="125.45" y1="407.3" x2="125.45" y2="409.5" stroke="#454545" stroke-width="0.8"/>
<text x="125.45" y="418.1" font-size="9" text-anchor="middle" font-weight="normal" fill="#161616" >1550</text>
<line x1="167.93" y1="407.3" x2="167.93" y2="409.5" stroke="#454545" stroke-width="0.8"/>
<text x="167.93" y="418.1" font-size="9" text-anchor="middle" font-weight="normal" fill="#161616" >1560</text>
<line x1="210.40" y1="407.3" x2="210.40" y2="409.5" stroke="#454545" stroke-width="0.8"/>
<text x="210.40" y="418.1" font-size="9" text-anchor="middle" font-weight="normal" fill="#161616" >1570</text>
<text x="126.45" y="428.3" font-size="9.45" text-anchor="middle" font-weight="normal" fill="#161616" >Wavelength(nm)</text>
<text x="0" y="0" font-size="9.3" fill="#161616" text-anchor="middle" transform="translate(19.9,349) rotate(-90)">Transmission(dB)</text>
<line x1="45.5" y1="298" x2="63.9" y2="298" stroke="#0a0a0a" stroke-width="1.4"/>
<text x="66.5" y="301.3" font-size="9.2" fill="#161616" text-anchor="start">TE<tspan font-size="6.62" dy="2.6">0</tspan><tspan dy="-2.6">-TE</tspan><tspan font-size="6.62" dy="2.6">0</tspan></text>
<line x1="45.5" y1="311.8" x2="63.9" y2="311.8" stroke="#ff0000" stroke-width="1.4"/>
<text x="66.5" y="315.1" font-size="9.2" fill="#161616" text-anchor="start">TE<tspan font-size="6.62" dy="2.6">0</tspan><tspan dy="-2.6">-TE</tspan><tspan font-size="6.62" dy="2.6">1</tspan></text>
<line x1="45.5" y1="325.4" x2="63.9" y2="325.4" stroke="#0000ff" stroke-width="1.4"/>
<text x="66.5" y="328.7" font-size="9.2" fill="#161616" text-anchor="start">TE<tspan font-size="6.62" dy="2.6">0</tspan><tspan dy="-2.6">-TE</tspan><tspan font-size="6.62" dy="2.6">2</tspan></text>
<polygon points="205.40,348.50 207.07,352.71 211.55,352.05 208.74,355.60 211.55,359.15 207.07,358.49 205.40,362.70 203.73,358.49 199.25,359.15 202.06,355.60 199.25,352.05 203.73,352.71" fill="#3d8fd1"/>
<text x="162.1" y="353.3" font-size="9" text-anchor="start" font-weight="normal" fill="#161616" >20.4 dB</text>
<text x="12.5" y="291.6" font-size="9" text-anchor="start" font-weight="bold" fill="#111" >f</text>
<clipPath id="clip1"><rect x="268.6" y="288.2" width="170.39999999999998" height="119.19999999999999"/></clipPath>
<rect x="268.6" y="288.2" width="170.39999999999998" height="119.19999999999999" fill="#ffffff"/>
<g clip-path="url(#clip1)" fill="none" stroke-linejoin="round" stroke-linecap="round">
<path d="M268.60,291.20 L269.40,291.18 L270.20,291.16 L271.00,291.13 L271.80,291.11 L272.60,291.09 L273.40,291.07 L274.20,291.05 L275.00,291.03 L275.80,291.01 L276.60,290.99 L277.40,290.97 L278.20,290.95 L279.00,290.94 L279.80,290.92 L280.60,290.90 L281.40,290.88 L282.20,290.87 L283.00,290.85 L283.80,290.84 L284.60,290.82 L285.40,290.81 L286.20,290.79 L287.00,290.78 L287.80,290.76 L288.60,290.75 L289.40,290.74 L290.20,290.73 L291.00,290.71 L291.80,290.70 L292.60,290.69 L293.40,290.68 L294.20,290.67 L295.00,290.66 L295.80,290.65 L296.60,290.64 L297.40,290.63 L298.20,290.62 L299.00,290.61 L299.80,290.60 L300.60,290.59 L301.40,290.58 L302.20,290.57 L303.00,290.56 L303.80,290.56 L304.60,290.55 L305.40,290.54 L306.20,290.53 L307.00,290.53 L307.80,290.52 L308.60,290.51 L309.40,290.51 L310.20,290.50 L311.00,290.50 L311.80,290.49 L312.60,290.49 L313.40,290.48 L314.20,290.48 L315.00,290.47 L315.80,290.47 L316.60,290.46 L317.40,290.46 L318.20,290.45 L319.00,290.45 L319.80,290.45 L320.60,290.44 L321.40,290.44 L322.20,290.44 L323.00,290.43 L323.80,290.43 L324.60,290.43 L325.40,290.43 L326.20,290.42 L327.00,290.42 L327.80,290.42 L328.60,290.42 L329.40,290.42 L330.20,290.41 L331.00,290.41 L331.80,290.41 L332.60,290.41 L333.40,290.41 L334.20,290.41 L335.00,290.41 L335.80,290.41 L336.60,290.41 L337.40,290.41 L338.20,290.41 L339.00,290.41 L339.80,290.41 L340.60,290.41 L341.40,290.41 L342.20,290.41 L343.00,290.41 L343.80,290.41 L344.60,290.41 L345.40,290.41 L346.20,290.41 L347.00,290.41 L347.80,290.42 L348.60,290.42 L349.40,290.42 L350.20,290.42 L351.00,290.42 L351.80,290.43 L352.60,290.43 L353.40,290.43 L354.20,290.43 L355.00,290.44 L355.80,290.44 L356.60,290.44 L357.40,290.44 L358.20,290.45 L359.00,290.45 L359.80,290.45 L360.60,290.46 L361.40,290.46 L362.20,290.46 L363.00,290.47 L363.80,290.47 L364.60,290.48 L365.40,290.48 L366.20,290.49 L367.00,290.49 L367.80,290.50 L368.60,290.50 L369.40,290.51 L370.20,290.51 L371.00,290.52 L371.80,290.52 L372.60,290.53 L373.40,290.54 L374.20,290.54 L375.00,290.55 L375.80,290.55 L376.60,290.56 L377.40,290.57 L378.20,290.58 L379.00,290.58 L379.80,290.59 L380.60,290.60 L381.40,290.61 L382.20,290.61 L383.00,290.62 L383.80,290.63 L384.60,290.64 L385.40,290.65 L386.20,290.66 L387.00,290.67 L387.80,290.68 L388.60,290.69 L389.40,290.70 L390.20,290.71 L391.00,290.72 L391.80,290.73 L392.60,290.74 L393.40,290.75 L394.20,290.76 L395.00,290.77 L395.80,290.79 L396.60,290.80 L397.40,290.81 L398.20,290.82 L399.00,290.84 L399.80,290.85 L400.60,290.86 L401.40,290.88 L402.20,290.89 L403.00,290.91 L403.80,290.92 L404.60,290.94 L405.40,290.95 L406.20,290.97 L407.00,290.99 L407.80,291.00 L408.60,291.02 L409.40,291.04 L410.20,291.06 L411.00,291.07 L411.80,291.09 L412.60,291.11 L413.40,291.13 L414.20,291.15 L415.00,291.17 L415.80,291.19 L416.60,291.21 L417.40,291.23 L418.20,291.26 L419.00,291.28 L419.80,291.30 L420.60,291.32 L421.40,291.35 L422.20,291.37 L423.00,291.40 L423.80,291.42 L424.60,291.45 L425.40,291.47 L426.20,291.50 L427.00,291.53 L427.80,291.55 L428.60,291.58 L429.40,291.61 L430.20,291.64 L431.00,291.67 L431.80,291.70 L432.60,291.73 L433.40,291.76 L434.20,291.79 L435.00,291.83 L435.80,291.86 L436.60,291.89 L437.40,291.93 L438.20,291.96 L439.00,292.00" stroke="#ff0000" stroke-width="1.75"/>
<path d="M266.00,343.89 L266.80,344.02 L267.60,344.16 L268.40,344.30 L269.20,344.45 L270.00,344.60 L270.80,344.76 L271.60,344.93 L272.40,345.10 L273.20,345.27 L274.00,345.46 L274.80,345.64 L275.60,345.83 L276.40,346.02 L277.20,346.22 L278.00,346.42 L278.80,346.63 L279.60,346.84 L280.40,347.05 L281.20,347.27 L282.00,347.49 L282.80,347.71 L283.60,347.93 L284.40,348.16 L285.20,348.39 L286.00,348.62 L286.80,348.85 L287.60,349.08 L288.40,349.32 L289.20,349.56 L290.00,349.80 L290.80,350.04 L291.60,350.28 L292.40,350.53 L293.20,350.77 L294.00,351.02 L294.80,351.27 L295.60,351.52 L296.40,351.77 L297.20,352.02 L298.00,352.27 L298.80,352.52 L299.60,352.77 L300.40,353.03 L301.20,353.28 L302.00,353.54 L302.80,353.79 L303.60,354.05 L304.40,354.31 L305.20,354.57 L306.00,354.83 L306.80,355.09 L307.60,355.35 L308.40,355.61 L309.20,355.87 L310.00,356.13 L310.80,356.40 L311.60,356.66 L312.40,356.93 L313.20,357.19 L314.00,357.46 L314.80,357.73 L315.60,358.00 L316.40,358.27 L317.20,358.54 L318.00,358.82 L318.80,359.10 L319.60,359.37 L320.40,359.65 L321.20,359.94 L322.00,360.22 L322.80,360.51 L323.60,360.79 L324.40,361.09 L325.20,361.38 L326.00,361.68 L326.80,361.98 L327.60,362.28 L328.40,362.59 L329.20,362.90 L330.00,363.21 L330.80,363.53 L331.60,363.85 L332.40,364.18 L333.20,364.51 L334.00,364.84 L334.80,365.18 L335.60,365.53 L336.40,365.88 L337.20,366.23 L338.00,366.60 L338.80,366.96 L339.60,367.34 L340.40,367.72 L341.20,368.11 L342.00,368.50 L342.80,368.91 L343.60,369.32 L344.40,369.74 L345.20,370.17 L346.00,370.60 L346.80,371.05 L347.60,371.50 L348.40,371.96 L349.20,372.44 L350.00,372.92 L350.80,373.42 L351.60,373.92 L352.40,374.44 L353.20,374.97 L354.00,375.51 L354.80,376.06 L355.60,376.62 L356.40,377.20 L357.20,377.79 L358.00,378.40 L358.80,379.02 L359.60,379.65 L360.40,380.30 L361.20,380.97 L362.00,381.65 L362.80,382.35 L363.60,383.06 L364.40,383.79 L365.20,384.54 L366.00,385.31 L366.80,386.10 L367.60,386.90 L368.40,387.73 L369.20,388.57 L370.00,389.43 L370.80,390.32 L371.60,391.23 L372.40,392.16 L373.20,393.11 L374.00,394.08 L374.80,395.08 L375.60,396.10 L376.40,397.15 L377.20,398.22 L378.00,399.31 L378.80,400.44 L379.60,401.58 L380.40,402.76 L381.20,403.96 L382.00,405.20 L382.80,406.46 L383.60,407.75 L384.40,409.07 L385.00,410.08" stroke="#0000ff" stroke-width="1.75"/>
<path d="M418.50,408.93 L419.30,407.79 L420.10,406.64 L420.90,405.49 L421.70,404.35 L422.50,403.23 L423.30,402.12 L424.10,401.05 L424.90,400.01 L425.70,399.00 L426.50,398.03 L427.30,397.10 L428.10,396.21 L428.90,395.37 L429.70,394.57 L430.50,393.82 L431.30,393.10 L432.10,392.43 L432.90,391.80 L433.70,391.21 L434.50,390.64 L435.30,390.11 L436.10,389.60 L436.90,389.10 L437.70,388.62 L438.50,388.14 L439.30,387.66 L440.10,387.16 L440.90,386.64 L441.00,386.58" stroke="#0000ff" stroke-width="1.75"/>
<path d="M360.00,409.06 L360.80,408.64 L361.60,408.25 L362.40,407.88 L363.20,407.53 L364.00,407.19 L364.80,406.87 L365.60,406.57 L366.40,406.29 L367.20,406.02 L368.00,405.77 L368.80,405.53 L369.60,405.30 L370.40,405.09 L371.20,404.89 L372.00,404.70 L372.80,404.52 L373.60,404.35 L374.40,404.19 L375.20,404.04 L376.00,403.90 L376.80,403.76 L377.60,403.64 L378.40,403.52 L379.20,403.41 L380.00,403.30 L380.80,403.20 L381.60,403.10 L382.40,403.01 L383.20,402.93 L384.00,402.85 L384.80,402.77 L385.60,402.69 L386.40,402.62 L387.20,402.55 L388.00,402.48 L388.80,402.42 L389.60,402.35 L390.40,402.29 L391.20,402.22 L392.00,402.16 L392.80,402.10 L393.60,402.04 L394.40,401.98 L395.20,401.92 L396.00,401.86 L396.80,401.80 L397.60,401.74 L398.40,401.67 L399.20,401.61 L400.00,401.54 L400.80,401.48 L401.60,401.41 L402.40,401.34 L403.20,401.27 L404.00,401.20 L404.80,401.13 L405.60,401.06 L406.40,400.98 L407.20,400.91 L408.00,400.83 L408.80,400.75 L409.60,400.67 L410.40,400.59 L411.20,400.51 L412.00,400.42 L412.80,400.34 L413.60,400.26 L414.40,400.17 L415.20,400.09 L416.00,400.01 L416.80,399.92 L417.60,399.84 L418.40,399.75 L419.20,399.67 L420.00,399.59 L420.80,399.51 L421.60,399.43 L422.40,399.36 L423.20,399.28 L424.00,399.21 L424.80,399.14 L425.60,399.08 L426.40,399.02 L427.20,398.96 L428.00,398.91 L428.80,398.86 L429.60,398.82 L430.40,398.78 L431.20,398.75 L432.00,398.73 L432.80,398.71 L433.60,398.70 L434.40,398.71 L435.20,398.71 L436.00,398.73 L436.80,398.76 L437.60,398.80 L438.40,398.85 L439.00,398.90" stroke="#0a0a0a" stroke-width="1.75"/>
</g>
<rect x="268.6" y="288.2" width="170.39999999999998" height="119.19999999999999" fill="none" stroke="#454545" stroke-width="0.9"/>
<line x1="266.3" y1="288.2" x2="268.6" y2="288.2" stroke="#454545" stroke-width="0.8"/>
<text x="265.20000000000005" y="290.8" font-size="9" text-anchor="end" font-weight="normal" fill="#161616" >0</text>
<line x1="266.3" y1="315" x2="268.6" y2="315" stroke="#454545" stroke-width="0.8"/>
<text x="265.20000000000005" y="317.6" font-size="9" text-anchor="end" font-weight="normal" fill="#161616" >-8</text>
<line x1="266.3" y1="341.5" x2="268.6" y2="341.5" stroke="#454545" stroke-width="0.8"/>
<text x="265.20000000000005" y="344.1" font-size="9" text-anchor="end" font-weight="normal" fill="#161616" >-16</text>
<line x1="266.3" y1="368.1" x2="268.6" y2="368.1" stroke="#454545" stroke-width="0.8"/>
<text x="265.20000000000005" y="370.70000000000005" font-size="9" text-anchor="end" font-weight="normal" fill="#161616" >-24</text>
<line x1="266.3" y1="394.4" x2="268.6" y2="394.4" stroke="#454545" stroke-width="0.8"/>
<text x="265.20000000000005" y="397.0" font-size="9" text-anchor="end" font-weight="normal" fill="#161616" >-32</text>
<line x1="268.60" y1="407.4" x2="268.60" y2="409.59999999999997" stroke="#454545" stroke-width="0.8"/>
<text x="268.60" y="418.3" font-size="9" text-anchor="middle" font-weight="normal" fill="#161616" >1530</text>
<line x1="311.20" y1="407.4" x2="311.20" y2="409.59999999999997" stroke="#454545" stroke-width="0.8"/>
<text x="311.20" y="418.3" font-size="9" text-anchor="middle" font-weight="normal" fill="#161616" >1540</text>
<line x1="353.80" y1="407.4" x2="353.80" y2="409.59999999999997" stroke="#454545" stroke-width="0.8"/>
<text x="353.80" y="418.3" font-size="9" text-anchor="middle" font-weight="normal" fill="#161616" >1550</text>
<line x1="396.40" y1="407.4" x2="396.40" y2="409.59999999999997" stroke="#454545" stroke-width="0.8"/>
<text x="396.40" y="418.3" font-size="9" text-anchor="middle" font-weight="normal" fill="#161616" >1560</text>
<line x1="439.00" y1="407.4" x2="439.00" y2="409.59999999999997" stroke="#454545" stroke-width="0.8"/>
<text x="439.00" y="418.3" font-size="9" text-anchor="middle" font-weight="normal" fill="#161616" >1570</text>
<text x="354.80" y="428.6" font-size="9.45" text-anchor="middle" font-weight="normal" fill="#161616" >Wavelength(nm)</text>
<line x1="380.5" y1="300" x2="398.7" y2="300" stroke="#0a0a0a" stroke-width="1.4"/>
<text x="401.5" y="303.3" font-size="9.2" fill="#161616" text-anchor="start">TE<tspan font-size="6.62" dy="2.6">1</tspan><tspan dy="-2.6">-TE</tspan><tspan font-size="6.62" dy="2.6">0</tspan></text>
<line x1="380.5" y1="314" x2="398.7" y2="314" stroke="#ff0000" stroke-width="1.4"/>
<text x="401.5" y="317.3" font-size="9.2" fill="#161616" text-anchor="start">TE<tspan font-size="6.62" dy="2.6">1</tspan><tspan dy="-2.6">-TE</tspan><tspan font-size="6.62" dy="2.6">1</tspan></text>
<line x1="380.5" y1="327.2" x2="398.7" y2="327.2" stroke="#0000ff" stroke-width="1.4"/>
<text x="401.5" y="330.5" font-size="9.2" fill="#161616" text-anchor="start">TE<tspan font-size="6.62" dy="2.6">1</tspan><tspan dy="-2.6">-TE</tspan><tspan font-size="6.62" dy="2.6">2</tspan></text>
<polygon points="275.40,337.90 277.07,342.11 281.55,341.45 278.74,345.00 281.55,348.55 277.07,347.89 275.40,352.10 273.73,347.89 269.25,348.55 272.06,345.00 269.25,341.45 273.73,342.11" fill="#3d8fd1"/>
<text x="284.6" y="341.3" font-size="9" text-anchor="start" font-weight="normal" fill="#161616" >16.2 dB</text>
<text x="239.6" y="290.5" font-size="9" text-anchor="start" font-weight="bold" fill="#111" >g</text>
<clipPath id="clip2"><rect x="495.4" y="288.4" width="172.80000000000007" height="119.40000000000003"/></clipPath>
<rect x="495.4" y="288.4" width="172.80000000000007" height="119.40000000000003" fill="#ffffff"/>
<g clip-path="url(#clip2)" fill="none" stroke-linejoin="round" stroke-linecap="round">
<path d="M495.40,291.20 L496.20,291.17 L497.00,291.15 L497.80,291.13 L498.60,291.11 L499.40,291.09 L500.20,291.07 L501.00,291.05 L501.80,291.03 L502.60,291.01 L503.40,290.99 L504.20,290.97 L505.00,290.96 L505.80,290.94 L506.60,290.92 L507.40,290.90 L508.20,290.89 L509.00,290.87 L509.80,290.85 L510.60,290.84 L511.40,290.82 L512.20,290.80 L513.00,290.79 L513.80,290.77 L514.60,290.76 L515.40,290.74 L516.20,290.73 L517.00,290.71 L517.80,290.70 L518.60,290.69 L519.40,290.67 L520.20,290.66 L521.00,290.65 L521.80,290.64 L522.60,290.62 L523.40,290.61 L524.20,290.60 L525.00,290.59 L525.80,290.58 L526.60,290.57 L527.40,290.56 L528.20,290.55 L529.00,290.54 L529.80,290.53 L530.60,290.52 L531.40,290.51 L532.20,290.50 L533.00,290.49 L533.80,290.48 L534.60,290.47 L535.40,290.47 L536.20,290.46 L537.00,290.45 L537.80,290.44 L538.60,290.44 L539.40,290.43 L540.20,290.42 L541.00,290.42 L541.80,290.41 L542.60,290.41 L543.40,290.40 L544.20,290.40 L545.00,290.39 L545.80,290.39 L546.60,290.38 L547.40,290.38 L548.20,290.38 L549.00,290.37 L549.80,290.37 L550.60,290.37 L551.40,290.36 L552.20,290.36 L553.00,290.36 L553.80,290.36 L554.60,290.36 L555.40,290.36 L556.20,290.35 L557.00,290.35 L557.80,290.35 L558.60,290.35 L559.40,290.35 L560.20,290.35 L561.00,290.35 L561.80,290.35 L562.60,290.35 L563.40,290.35 L564.20,290.36 L565.00,290.36 L565.80,290.36 L566.60,290.36 L567.40,290.36 L568.20,290.37 L569.00,290.37 L569.80,290.37 L570.60,290.38 L571.40,290.38 L572.20,290.38 L573.00,290.39 L573.80,290.39 L574.60,290.39 L575.40,290.40 L576.20,290.40 L577.00,290.41 L577.80,290.41 L578.60,290.42 L579.40,290.43 L580.20,290.43 L581.00,290.44 L581.80,290.44 L582.60,290.45 L583.40,290.46 L584.20,290.46 L585.00,290.47 L585.80,290.48 L586.60,290.49 L587.40,290.50 L588.20,290.50 L589.00,290.51 L589.80,290.52 L590.60,290.53 L591.40,290.54 L592.20,290.55 L593.00,290.56 L593.80,290.57 L594.60,290.58 L595.40,290.59 L596.20,290.60 L597.00,290.61 L597.80,290.62 L598.60,290.63 L599.40,290.64 L600.20,290.65 L601.00,290.66 L601.80,290.68 L602.60,290.69 L603.40,290.70 L604.20,290.71 L605.00,290.72 L605.80,290.74 L606.60,290.75 L607.40,290.76 L608.20,290.78 L609.00,290.79 L609.80,290.80 L610.60,290.82 L611.40,290.83 L612.20,290.85 L613.00,290.86 L613.80,290.88 L614.60,290.89 L615.40,290.91 L616.20,290.92 L617.00,290.94 L617.80,290.95 L618.60,290.97 L619.40,290.99 L620.20,291.00 L621.00,291.02 L621.80,291.04 L622.60,291.05 L623.40,291.07 L624.20,291.09 L625.00,291.11 L625.80,291.12 L626.60,291.14 L627.40,291.16 L628.20,291.18 L629.00,291.20 L629.80,291.21 L630.60,291.23 L631.40,291.25 L632.20,291.27 L633.00,291.29 L633.80,291.31 L634.60,291.33 L635.40,291.35 L636.20,291.37 L637.00,291.39 L637.80,291.41 L638.60,291.43 L639.40,291.45 L640.20,291.47 L641.00,291.49 L641.80,291.52 L642.60,291.54 L643.40,291.56 L644.20,291.58 L645.00,291.60 L645.80,291.62 L646.60,291.65 L647.40,291.67 L648.20,291.69 L649.00,291.71 L649.80,291.74 L650.60,291.76 L651.40,291.78 L652.20,291.81 L653.00,291.83 L653.80,291.86 L654.60,291.88 L655.40,291.90 L656.20,291.93 L657.00,291.95 L657.80,291.98 L658.60,292.00 L659.40,292.03 L660.20,292.05 L661.00,292.08 L661.80,292.10 L662.60,292.13 L663.40,292.15 L664.20,292.18 L665.00,292.20 L665.80,292.23 L666.60,292.26 L667.40,292.28 L668.20,292.31" stroke="#0000ff" stroke-width="1.75"/>
<path d="M493.00,353.18 L493.80,353.48 L494.60,353.78 L495.40,354.07 L496.20,354.35 L497.00,354.63 L497.80,354.90 L498.60,355.17 L499.40,355.43 L500.20,355.69 L501.00,355.94 L501.80,356.19 L502.60,356.44 L503.40,356.68 L504.20,356.92 L505.00,357.15 L505.80,357.38 L506.60,357.61 L507.40,357.83 L508.20,358.06 L509.00,358.27 L509.80,358.49 L510.60,358.71 L511.40,358.92 L512.20,359.13 L513.00,359.34 L513.80,359.55 L514.60,359.75 L515.40,359.96 L516.20,360.16 L517.00,360.37 L517.80,360.57 L518.60,360.78 L519.40,360.98 L520.20,361.18 L521.00,361.39 L521.80,361.59 L522.60,361.80 L523.40,362.01 L524.20,362.21 L525.00,362.42 L525.80,362.63 L526.60,362.85 L527.40,363.06 L528.20,363.28 L529.00,363.50 L529.80,363.72 L530.60,363.94 L531.40,364.17 L532.20,364.40 L533.00,364.63 L533.80,364.87 L534.60,365.11 L535.40,365.35 L536.20,365.60 L537.00,365.85 L537.80,366.11 L538.60,366.37 L539.40,366.64 L540.20,366.91 L541.00,367.19 L541.80,367.47 L542.60,367.76 L543.40,368.05 L544.20,368.35 L545.00,368.66 L545.80,368.97 L546.60,369.29 L547.40,369.61 L548.20,369.95 L549.00,370.29 L549.80,370.63 L550.60,370.99 L551.40,371.35 L552.20,371.72 L553.00,372.10 L553.80,372.49 L554.60,372.88 L555.40,373.29 L556.20,373.70 L557.00,374.12 L557.80,374.55 L558.60,374.99 L559.40,375.44 L560.20,375.91 L561.00,376.38 L561.80,376.86 L562.60,377.35 L563.40,377.85 L564.20,378.36 L565.00,378.89 L565.80,379.42 L566.60,379.97 L567.40,380.53 L568.20,381.09 L569.00,381.68 L569.80,382.27 L570.60,382.88 L571.40,383.50 L572.20,384.13 L573.00,384.77 L573.80,385.43 L574.60,386.10 L575.40,386.79 L576.20,387.48 L577.00,388.20 L577.80,388.92 L578.60,389.66 L579.40,390.42 L580.20,391.19 L581.00,391.97 L581.80,392.77 L582.60,393.59 L583.40,394.42 L584.20,395.26 L585.00,396.12 L585.80,397.00 L586.60,397.90 L587.40,398.81 L588.20,399.73 L589.00,400.68 L589.80,401.64 L590.60,402.62 L591.40,403.61 L592.20,404.63 L593.00,405.66 L593.80,406.70 L594.60,407.77 L595.40,408.86 L596.00,409.68" stroke="#ff0000" stroke-width="1.75"/>
<path d="M617.50,409.80 L618.30,408.56 L619.10,407.36 L619.90,406.19 L620.70,405.06 L621.50,403.96 L622.30,402.89 L623.10,401.85 L623.90,400.85 L624.70,399.87 L625.50,398.92 L626.30,397.99 L627.10,397.09 L627.90,396.21 L628.70,395.35 L629.50,394.52 L630.30,393.71 L631.10,392.91 L631.90,392.14 L632.70,391.38 L633.50,390.64 L634.30,389.92 L635.10,389.21 L635.90,388.52 L636.70,387.84 L637.50,387.17 L638.30,386.51 L639.10,385.87 L639.90,385.24 L640.70,384.62 L641.50,384.01 L642.30,383.41 L643.10,382.81 L643.90,382.23 L644.70,381.66 L645.50,381.09 L646.30,380.53 L647.10,379.98 L647.90,379.43 L648.70,378.89 L649.50,378.36 L650.30,377.83 L651.10,377.31 L651.90,376.80 L652.70,376.29 L653.50,375.78 L654.30,375.29 L655.10,374.79 L655.90,374.31 L656.70,373.83 L657.50,373.35 L658.30,372.88 L659.10,372.42 L659.90,371.96 L660.70,371.51 L661.50,371.07 L662.30,370.64 L663.10,370.21 L663.90,369.79 L664.70,369.37 L665.50,368.97 L666.30,368.57 L667.10,368.19 L667.90,367.81 L668.70,367.45 L669.50,367.09 L670.00,366.87" stroke="#ff0000" stroke-width="1.75"/>
<path d="M493.00,381.05 L493.80,381.34 L494.60,381.64 L495.40,381.95 L496.20,382.27 L497.00,382.60 L497.80,382.93 L498.60,383.28 L499.40,383.62 L500.20,383.98 L501.00,384.33 L501.80,384.69 L502.60,385.04 L503.40,385.40 L504.20,385.76 L505.00,386.11 L505.80,386.47 L506.60,386.82 L507.40,387.17 L508.20,387.53 L509.00,387.87 L509.80,388.22 L510.60,388.57 L511.40,388.92 L512.20,389.26 L513.00,389.61 L513.80,389.95 L514.60,390.30 L515.40,390.65 L516.20,391.01 L517.00,391.37 L517.80,391.73 L518.60,392.11 L519.40,392.49 L520.20,392.88 L521.00,393.28 L521.80,393.70 L522.60,394.13 L523.40,394.58 L524.20,395.05 L525.00,395.54 L525.80,396.06 L526.60,396.60 L527.40,397.17 L528.20,397.77 L529.00,398.40 L529.80,399.07 L530.60,399.78 L531.40,400.54 L532.20,401.34 L533.00,402.18 L533.80,403.08 L534.60,404.04 L535.40,405.05 L536.20,406.13 L537.00,407.27 L537.80,408.49 L538.50,409.61" stroke="#0a0a0a" stroke-width="1.75"/>
<path d="M575.00,410.00 C575.28,409.52 575.05,408.95 576.70,407.10 C578.35,405.25 581.05,401.63 584.90,398.90 C588.75,396.17 594.83,393.30 599.80,390.70 C604.77,388.10 609.73,385.78 614.70,383.30 C619.67,380.82 624.65,377.83 629.60,375.80 C634.55,373.77 639.45,372.33 644.40,371.10 C649.35,369.87 655.45,369.05 659.30,368.40 C663.15,367.75 665.72,367.43 667.50,367.20 C669.28,366.97 669.58,367.03 670.00,367.00" stroke="#0a0a0a" stroke-width="1.75"/>
</g>
<rect x="495.4" y="288.4" width="172.80000000000007" height="119.40000000000003" fill="none" stroke="#454545" stroke-width="0.9"/>
<line x1="493.09999999999997" y1="288.4" x2="495.4" y2="288.4" stroke="#454545" stroke-width="0.8"/>
<text x="492.0" y="291.0" font-size="9" text-anchor="end" font-weight="normal" fill="#161616" >0</text>
<line x1="493.09999999999997" y1="315" x2="495.4" y2="315" stroke="#454545" stroke-width="0.8"/>
<text x="492.0" y="317.6" font-size="9" text-anchor="end" font-weight="normal" fill="#161616" >-8</text>
<line x1="493.09999999999997" y1="341.3" x2="495.4" y2="341.3" stroke="#454545" stroke-width="0.8"/>
<text x="492.0" y="343.90000000000003" font-size="9" text-anchor="end" font-weight="normal" fill="#161616" >-16</text>
<line x1="493.09999999999997" y1="368" x2="495.4" y2="368" stroke="#454545" stroke-width="0.8"/>
<text x="492.0" y="370.6" font-size="9" text-anchor="end" font-weight="normal" fill="#161616" >-24</text>
<line x1="493.09999999999997" y1="394.5" x2="495.4" y2="394.5" stroke="#454545" stroke-width="0.8"/>
<text x="492.0" y="397.1" font-size="9" text-anchor="end" font-weight="normal" fill="#161616" >-32</text>
<line x1="495.40" y1="407.8" x2="495.40" y2="410.0" stroke="#454545" stroke-width="0.8"/>
<text x="495.40" y="418.5" font-size="9" text-anchor="middle" font-weight="normal" fill="#161616" >1530</text>
<line x1="538.60" y1="407.8" x2="538.60" y2="410.0" stroke="#454545" stroke-width="0.8"/>
<text x="538.60" y="418.5" font-size="9" text-anchor="middle" font-weight="normal" fill="#161616" >1540</text>
<line x1="581.80" y1="407.8" x2="581.80" y2="410.0" stroke="#454545" stroke-width="0.8"/>
<text x="581.80" y="418.5" font-size="9" text-anchor="middle" font-weight="normal" fill="#161616" >1550</text>
<line x1="625.00" y1="407.8" x2="625.00" y2="410.0" stroke="#454545" stroke-width="0.8"/>
<text x="625.00" y="418.5" font-size="9" text-anchor="middle" font-weight="normal" fill="#161616" >1560</text>
<line x1="668.20" y1="407.8" x2="668.20" y2="410.0" stroke="#454545" stroke-width="0.8"/>
<text x="668.20" y="418.5" font-size="9" text-anchor="middle" font-weight="normal" fill="#161616" >1570</text>
<text x="582.80" y="428.6" font-size="9.45" text-anchor="middle" font-weight="normal" fill="#161616" >Wavelength(nm)</text>
<line x1="608.8" y1="301.4" x2="626.7" y2="301.4" stroke="#0a0a0a" stroke-width="1.4"/>
<text x="630" y="304.7" font-size="9.2" fill="#161616" text-anchor="start">TE<tspan font-size="6.62" dy="2.6">2</tspan><tspan dy="-2.6">-TE</tspan><tspan font-size="6.62" dy="2.6">0</tspan></text>
<line x1="608.8" y1="314.9" x2="626.7" y2="314.9" stroke="#ff0000" stroke-width="1.4"/>
<text x="630" y="318.2" font-size="9.2" fill="#161616" text-anchor="start">TE<tspan font-size="6.62" dy="2.6">2</tspan><tspan dy="-2.6">-TE</tspan><tspan font-size="6.62" dy="2.6">1</tspan></text>
<line x1="608.8" y1="328.8" x2="626.7" y2="328.8" stroke="#0000ff" stroke-width="1.4"/>
<text x="630" y="332.1" font-size="9.2" fill="#161616" text-anchor="start">TE<tspan font-size="6.62" dy="2.6">2</tspan><tspan dy="-2.6">-TE</tspan><tspan font-size="6.62" dy="2.6">2</tspan></text>
<polygon points="502.20,345.90 503.87,350.11 508.35,349.45 505.54,353.00 508.35,356.55 503.87,355.89 502.20,360.10 500.53,355.89 496.05,356.55 498.86,353.00 496.05,349.45 500.53,350.11" fill="#3d8fd1"/>
<text x="511.7" y="350.2" font-size="9" text-anchor="start" font-weight="normal" fill="#161616" >19.8 dB</text>
<text x="464.8" y="291.6" font-size="9" text-anchor="start" font-weight="bold" fill="#111" >h</text>
<clipPath id="clip3"><rect x="41.3" y="454.5" width="169.8" height="118.70000000000005"/></clipPath>
<rect x="41.3" y="454.5" width="169.8" height="118.70000000000005" fill="#ffffff"/>
<g clip-path="url(#clip3)" fill="none" stroke-linejoin="round" stroke-linecap="round">
<path d="M41.30,455.26 L41.62,455.20 L41.97,455.36 L42.34,455.20 L42.75,455.63 L43.18,455.25 L43.63,455.31 L44.11,455.66 L44.61,455.52 L45.13,455.37 L45.67,455.80 L46.23,455.78 L46.81,455.78 L47.41,455.65 L48.02,455.85 L48.64,455.85 L49.28,456.14 L49.93,455.50 L50.60,455.34 L51.27,455.72 L51.95,455.51 L52.64,455.62 L53.34,455.89 L54.04,456.11 L54.74,455.81 L55.45,456.14 L56.16,456.06 L56.87,456.10 L57.59,455.76 L58.30,456.66 L59.01,455.92 L59.71,456.55 L60.41,456.22 L61.10,456.25 L61.79,456.83 L62.47,456.84 L63.14,456.24 L63.80,456.59 L64.37,456.16 L64.94,456.85 L65.51,456.11 L66.09,456.96 L66.67,456.81 L67.26,456.31 L67.85,456.34 L68.45,456.72 L69.05,456.61 L69.65,456.76 L70.25,457.13 L70.86,457.18 L71.47,456.53 L72.08,456.87 L72.69,456.71 L73.31,457.27 L73.92,457.38 L74.54,457.17 L75.16,457.30 L75.78,456.97 L76.40,457.39 L77.02,456.83 L77.64,457.43 L78.26,457.54 L78.88,457.61 L79.49,457.69 L80.11,457.33 L80.73,456.85 L81.35,457.39 L81.96,457.45 L82.57,457.72 L83.18,457.86 L83.79,457.66 L84.40,457.34 L85.00,457.80 L85.60,457.81 L86.20,457.36 L86.79,457.63 L87.38,458.07 L87.97,457.81 L88.55,458.16 L89.13,457.99 L89.70,457.42 L90.35,458.23 L90.99,457.55 L91.64,458.08 L92.29,457.76 L92.94,457.71 L93.60,457.85 L94.25,458.56 L94.90,457.80 L95.55,458.42 L96.19,458.25 L96.84,458.79 L97.49,458.82 L98.13,458.29 L98.78,458.87 L99.42,459.07 L100.05,459.15 L100.69,458.84 L101.32,458.60 L101.95,459.44 L102.58,459.29 L103.20,459.27 L103.81,459.04 L104.43,459.65 L105.03,459.64 L105.64,459.47 L106.23,459.51 L106.83,459.75 L107.41,459.60 L107.99,459.77 L108.57,459.33 L109.14,459.72 L109.70,459.56 L110.25,459.38 L110.80,459.39 L111.33,460.00 L111.86,459.74 L112.39,460.23 L112.90,460.11 L113.66,459.97 L114.39,459.36 L115.10,460.24 L115.79,459.27 L116.45,459.77 L117.10,459.97 L117.73,460.03 L118.34,459.53 L118.94,459.21 L119.53,459.65 L120.11,459.30 L120.68,459.62 L121.25,459.51 L121.82,459.22 L122.38,459.03 L122.95,458.46 L123.52,458.69 L124.09,458.66 L124.67,458.44 L125.26,458.18 L125.86,458.03 L126.47,458.90 L127.09,458.28 L127.74,458.30 L128.40,458.56 L128.96,457.81 L129.51,458.09 L130.07,457.86 L130.62,458.31 L131.18,458.29 L131.73,458.20 L132.28,458.20 L132.84,458.11 L133.39,458.46 L133.95,458.51 L134.51,457.90 L135.08,457.99 L135.65,457.99 L136.22,458.63 L136.80,458.14 L137.38,458.53 L137.98,457.82 L138.57,457.95 L139.18,457.79 L139.79,458.44 L140.41,457.91 L141.05,458.23 L141.69,458.72 L142.34,458.07 L143.00,458.72 L143.68,457.91 L144.36,458.47 L145.06,458.34 L145.77,458.33 L146.50,458.72 L147.02,458.36 L147.55,458.56 L148.08,459.01 L148.63,458.42 L149.19,458.34 L149.76,458.62 L150.33,458.70 L150.91,458.85 L151.50,458.80 L152.10,458.86 L152.70,458.73 L153.31,458.86 L153.93,459.32 L154.54,459.47 L155.17,459.44 L155.80,458.99 L156.43,459.43 L157.06,459.16 L157.70,459.21 L158.33,459.12 L158.97,459.69 L159.61,459.41 L160.25,459.78 L160.90,459.77 L161.54,460.06 L162.17,459.79 L162.81,460.21 L163.45,459.67 L164.08,460.70 L164.71,460.44 L165.34,460.43 L165.96,460.36 L166.58,460.42 L167.19,460.40 L167.80,460.23 L168.40,460.81 L168.99,460.42 L169.58,460.70 L170.16,461.05 L170.74,460.95 L171.30,461.15 L171.85,461.09 L172.40,461.28 L173.08,461.38 L173.75,461.20 L174.42,461.07 L175.08,461.47 L175.74,461.35 L176.38,461.10 L177.03,460.70 L177.66,461.25 L178.30,461.00 L178.92,461.46 L179.55,460.91 L180.16,461.29 L180.78,461.11 L181.38,460.75 L181.99,460.58 L182.59,461.31 L183.19,460.64 L183.78,461.13 L184.37,460.92 L184.96,461.30 L185.55,461.00 L186.13,460.52 L186.71,461.12 L187.29,460.74 L187.86,460.76 L188.44,460.93 L189.01,460.34 L189.58,460.47 L190.15,460.83 L190.72,461.14 L191.29,461.25 L191.86,461.27 L192.43,461.16 L193.00,460.55 L193.65,460.60 L194.32,461.02 L194.99,460.61 L195.68,461.03 L196.37,461.47 L197.07,460.87 L197.77,461.14 L198.48,461.42 L199.18,461.20 L199.89,461.62 L200.59,461.51 L201.29,461.71 L201.98,461.94 L202.66,461.74 L203.34,461.25 L204.00,461.79 L204.65,461.67 L205.28,462.00 L205.90,461.99 L206.50,462.33 L207.08,462.31 L207.64,461.91 L208.17,462.61 L208.68,461.86 L209.16,461.96 L209.61,462.34 L210.03,461.85 L210.42,462.78 L210.78,462.54 L211.10,462.40" stroke="#0a0a0a" stroke-width="1.75"/>
<path d="M41.30,526.59 L41.64,526.58 L42.04,526.51 L42.49,526.84 L42.99,526.36 L43.54,526.30 L44.13,526.79 L44.75,526.64 L45.40,527.53 L46.08,527.46 L46.78,527.05 L47.49,527.48 L48.22,528.06 L48.95,527.97 L49.69,528.53 L50.42,527.71 L51.14,527.92 L51.86,528.73 L52.55,528.25 L53.23,528.55 L53.87,528.41 L54.49,528.73 L55.07,529.01 L55.61,528.67 L56.10,528.30 L56.97,528.89 L57.73,528.16 L58.40,528.43 L59.00,528.00 L59.54,527.86 L60.06,528.22 L60.58,527.78 L61.10,527.35 L61.67,526.76 L62.29,526.86 L63.00,526.41 L63.80,526.05 L64.30,526.43 L64.83,526.57 L65.38,526.21 L65.95,526.89 L66.53,526.62 L67.13,526.47 L67.74,526.38 L68.37,526.76 L69.01,526.05 L69.65,526.23 L70.30,526.35 L70.96,527.05 L71.62,526.62 L72.28,526.44 L72.94,526.88 L73.60,526.82 L74.25,526.40 L74.90,527.02 L75.54,527.48 L76.18,527.00 L76.80,527.39 L77.41,526.57 L78.01,526.65 L78.60,527.63 L79.19,527.45 L79.77,527.25 L80.34,527.95 L80.91,527.37 L81.49,527.52 L82.06,527.65 L82.64,527.77 L83.22,527.90 L83.81,527.82 L84.41,528.16 L85.02,527.96 L85.64,527.79 L86.27,528.03 L86.92,528.35 L87.59,528.59 L88.27,528.49 L88.97,528.24 L89.70,528.44 L90.22,529.15 L90.76,528.41 L91.30,528.96 L91.85,529.27 L92.42,529.22 L92.99,529.67 L93.57,529.48 L94.15,529.12 L94.75,529.58 L95.35,530.24 L95.95,529.48 L96.57,529.53 L97.18,530.19 L97.80,529.88 L98.42,530.25 L99.05,530.23 L99.68,529.90 L100.31,530.60 L100.94,530.19 L101.57,530.49 L102.21,530.89 L102.84,530.96 L103.47,531.25 L104.10,531.32 L104.72,530.77 L105.35,531.06 L105.97,530.80 L106.58,531.14 L107.19,531.19 L107.80,531.79 L108.40,531.56 L109.00,530.89 L109.60,531.46 L110.19,531.85 L110.79,531.97 L111.38,531.20 L111.97,531.23 L112.56,531.48 L113.15,531.09 L113.74,530.92 L114.33,531.55 L114.92,530.98 L115.51,531.24 L116.10,531.45 L116.69,531.21 L117.29,530.84 L117.88,530.82 L118.48,531.20 L119.08,531.52 L119.68,530.41 L120.29,530.75 L120.89,530.99 L121.51,530.90 L122.12,530.42 L122.74,530.97 L123.36,530.62 L123.99,531.29 L124.62,530.75 L125.26,531.32 L125.90,531.40 L126.47,530.35 L127.06,530.54 L127.66,531.01 L128.26,531.22 L128.88,531.54 L129.50,531.30 L130.13,531.07 L130.76,531.84 L131.40,531.19 L132.05,531.83 L132.69,531.66 L133.34,532.07 L134.00,532.39 L134.65,531.50 L135.30,531.77 L135.95,532.68 L136.60,532.24 L137.25,532.24 L137.89,533.08 L138.53,532.46 L139.16,532.59 L139.79,532.54 L140.41,532.73 L141.02,532.57 L141.62,533.32 L142.21,533.53 L142.79,533.11 L143.37,533.59 L143.92,533.66 L144.47,533.60 L145.00,533.81 L145.52,533.32 L146.02,534.29 L146.50,534.54 L147.34,534.44 L148.16,533.76 L148.96,534.59 L149.73,534.84 L150.48,534.23 L151.21,534.71 L151.91,534.27 L152.59,534.68 L153.25,534.89 L153.87,534.38 L154.47,534.39 L155.04,534.83 L155.59,534.97 L156.10,534.51 L156.58,534.85 L157.03,534.95 L157.45,535.65 L157.84,535.78 L158.20,534.77 L158.72,536.96 L159.40,537.44 L159.76,537.57 L160.18,538.15 L160.64,538.32 L161.14,538.16 L161.68,538.69 L162.26,538.62 L162.86,538.93 L163.50,539.03 L164.15,539.51 L164.83,539.94 L165.52,539.50 L166.22,540.65 L166.92,540.36 L167.64,540.40 L168.35,541.40 L169.06,541.38 L169.76,541.12 L170.44,541.73 L171.12,541.45 L171.77,541.44 L172.40,541.38 L173.02,542.23 L173.63,541.98 L174.25,542.02 L174.86,541.78 L175.48,541.66 L176.09,542.69 L176.71,541.82 L177.32,542.01 L177.94,541.66 L178.55,541.99 L179.16,542.26 L179.78,542.72 L180.39,542.74 L181.00,542.22 L181.62,541.87 L182.23,542.35 L182.84,541.97 L183.46,542.29 L184.07,542.75 L184.69,541.88 L185.30,543.01 L185.91,542.12 L186.53,542.27 L187.14,542.11 L187.76,543.18 L188.37,542.49 L188.99,543.18 L189.60,543.27 L190.21,542.73 L190.83,542.42 L191.44,542.97 L192.06,542.39 L192.67,543.58 L193.29,543.53 L193.90,543.53 L194.51,542.69 L195.13,543.33 L195.74,543.46 L196.36,543.85 L196.97,543.32 L197.59,543.43 L198.20,543.71 L198.83,543.67 L199.48,544.19 L200.16,543.75 L200.85,544.30 L201.55,544.22 L202.26,543.98 L202.98,544.79 L203.69,544.71 L204.41,544.85 L205.11,544.54 L205.80,544.99 L206.47,545.04 L207.13,544.63 L207.76,545.32 L208.35,544.91 L208.92,545.26 L209.45,545.85 L209.93,545.79 L210.37,545.29 L210.76,545.54 L211.10,545.60" stroke="#ff0000" stroke-width="1.75"/>
<path d="M41.30,566.70 L41.63,565.37 L42.01,565.51 L42.44,565.71 L42.91,566.01 L43.41,566.37 L43.96,565.22 L44.54,565.74 L45.14,565.02 L45.78,566.00 L46.43,564.93 L47.11,564.47 L47.80,565.13 L48.50,566.14 L49.21,565.17 L49.93,564.23 L50.65,565.26 L51.37,565.05 L52.09,564.44 L52.80,565.00 L53.50,564.57 L54.06,565.39 L54.63,565.80 L55.21,565.39 L55.79,565.85 L56.39,565.86 L56.99,564.57 L57.60,564.87 L58.22,566.52 L58.84,566.58 L59.46,566.26 L60.09,565.37 L60.73,565.59 L61.36,566.61 L62.00,566.88 L62.64,565.86 L63.28,567.36 L63.93,566.33 L64.57,566.50 L65.21,567.14 L65.85,567.93 L66.48,566.58 L67.12,567.03 L67.75,568.17 L68.38,566.55 L69.00,566.76 L69.62,567.16 L70.23,568.28 L70.84,567.35 L71.45,567.35 L72.06,568.35 L72.66,568.35 L73.27,568.37 L73.87,568.57 L74.47,567.67 L75.08,569.62 L75.68,567.96 L76.28,568.20 L76.89,568.40 L77.50,569.31 L78.11,569.13 L78.73,569.56 L79.35,569.25 L79.97,569.57 L80.60,569.70 L81.23,569.81 L81.87,569.31 L82.52,568.85 L83.17,569.33 L83.83,570.59 L84.50,569.98 L85.06,569.19 L85.63,569.16 L86.20,570.25 L86.78,569.14 L87.37,568.51 L87.95,568.26 L88.55,568.27 L89.14,568.68 L89.74,568.81 L90.34,569.50 L90.95,567.71 L91.55,567.42 L92.16,569.13 L92.77,567.71 L93.39,568.29 L94.00,568.65 L94.62,567.55 L95.24,568.04 L95.85,567.28 L96.47,567.81 L97.09,567.03 L97.71,565.93 L98.32,567.24 L98.94,566.24 L99.55,566.26 L100.17,565.32 L100.78,565.22 L101.39,566.84 L102.00,566.52 L102.60,565.79 L103.20,565.00 L103.81,566.02 L104.42,564.73 L105.03,565.04 L105.65,566.23 L106.26,564.58 L106.88,566.49 L107.49,565.16 L108.11,564.67 L108.73,564.97 L109.35,565.68 L109.96,565.07 L110.58,565.35 L111.20,566.32 L111.81,566.42 L112.43,566.29 L113.04,564.85 L113.65,566.38 L114.25,565.05 L114.86,565.34 L115.46,565.72 L116.06,566.18 L116.65,565.19 L117.25,565.44 L117.83,564.92 L118.42,564.84 L119.00,564.96 L119.57,564.82 L120.14,564.17 L120.70,565.68 L121.37,564.70 L122.04,563.92 L122.70,565.25 L123.35,564.45 L124.01,565.01 L124.66,564.60 L125.30,564.36 L125.94,564.15 L126.58,562.89 L127.21,563.50 L127.84,562.38 L128.46,562.92 L129.08,562.32 L129.70,562.00 L130.31,560.82 L130.92,561.20 L131.52,560.78 L132.12,561.21 L132.72,560.78 L133.31,559.28 L133.89,559.35 L134.48,559.25 L135.06,559.48 L135.63,558.13 L136.20,558.68 L136.87,558.89 L137.53,558.42 L138.18,558.42 L138.82,557.48 L139.45,557.00 L140.08,556.91 L140.69,555.58 L141.30,556.24 L141.91,555.44 L142.51,555.68 L143.11,555.10 L143.71,555.12 L144.30,554.70 L144.90,553.95 L145.49,553.39 L146.08,554.24 L146.68,553.25 L147.28,552.45 L147.88,552.88 L148.49,552.57 L149.10,552.81 L149.72,552.23 L150.34,551.07 L150.96,550.80 L151.59,551.86 L152.23,550.07 L152.86,551.29 L153.49,550.66 L154.13,550.22 L154.76,549.93 L155.39,548.57 L156.02,550.09 L156.65,548.87 L157.27,549.18 L157.89,549.11 L158.50,547.69 L159.10,547.48 L159.70,548.48 L160.29,547.90 L160.87,547.07 L161.44,548.05 L162.00,546.32 L162.67,547.14 L163.32,545.56 L163.95,546.06 L164.57,547.05 L165.17,546.06 L165.75,546.65 L166.34,545.49 L166.91,545.97 L167.49,546.07 L168.06,544.57 L168.65,545.58 L169.23,544.07 L169.83,545.34 L170.45,545.30 L171.08,545.03 L171.73,543.56 L172.40,545.21 L172.96,544.89 L173.53,544.23 L174.11,544.69 L174.70,543.47 L175.30,544.04 L175.90,544.21 L176.51,544.47 L177.13,544.44 L177.75,543.26 L178.38,543.87 L179.01,543.89 L179.64,543.96 L180.27,542.43 L180.91,543.51 L181.54,543.45 L182.17,543.09 L182.81,543.88 L183.44,543.47 L184.06,543.60 L184.68,543.96 L185.30,542.41 L185.91,543.85 L186.53,543.74 L187.14,542.57 L187.76,543.36 L188.37,543.74 L188.99,543.62 L189.60,543.21 L190.21,542.43 L190.83,543.62 L191.44,543.60 L192.06,543.09 L192.67,542.50 L193.29,543.29 L193.90,543.35 L194.51,543.17 L195.13,542.77 L195.74,543.28 L196.36,543.86 L196.97,542.57 L197.59,544.29 L198.20,543.40 L198.83,544.35 L199.48,543.34 L200.16,543.16 L200.85,542.67 L201.55,542.62 L202.26,544.11 L202.98,542.77 L203.69,543.82 L204.41,543.09 L205.11,543.96 L205.80,543.57 L206.47,543.17 L207.13,543.46 L207.76,543.20 L208.35,543.46 L208.92,542.76 L209.45,543.47 L209.93,544.03 L210.37,544.45 L210.76,542.56 L211.10,543.50" stroke="#0000ff" stroke-width="2.0"/>
<path d="M41.6,526.5 L41.8,523.3 L42.8,523.5 L43,526.3" stroke="#ff0000" stroke-width="1.5"/>
<path d="M56.4,528.8 L56.6,525.6 L57.3,525.8 L57.5,529" stroke="#ff0000" stroke-width="1.5"/>
<path d="M59.2,529.6 L59.4,532 L60.4,532 L60.6,529.8" stroke="#ff0000" stroke-width="1.5"/>
<path d="M157.6,534.6 L158,538.4 L159.6,538.6" stroke="#ff0000" stroke-width="1.5"/>
</g>
<rect x="41.3" y="454.5" width="169.8" height="118.70000000000005" fill="none" stroke="#454545" stroke-width="0.9"/>
<line x1="39.0" y1="463" x2="41.3" y2="463" stroke="#454545" stroke-width="0.8"/>
<text x="37.9" y="465.6" font-size="9" text-anchor="end" font-weight="normal" fill="#161616" >-3</text>
<line x1="39.0" y1="484.3" x2="41.3" y2="484.3" stroke="#454545" stroke-width="0.8"/>
<text x="37.9" y="486.90000000000003" font-size="9" text-anchor="end" font-weight="normal" fill="#161616" >-8</text>
<line x1="39.0" y1="505.7" x2="41.3" y2="505.7" stroke="#454545" stroke-width="0.8"/>
<text x="37.9" y="508.3" font-size="9" text-anchor="end" font-weight="normal" fill="#161616" >-13</text>
<line x1="39.0" y1="526.6" x2="41.3" y2="526.6" stroke="#454545" stroke-width="0.8"/>
<text x="37.9" y="529.2" font-size="9" text-anchor="end" font-weight="normal" fill="#161616" >-18</text>
<line x1="39.0" y1="547.8" x2="41.3" y2="547.8" stroke="#454545" stroke-width="0.8"/>
<text x="37.9" y="550.4" font-size="9" text-anchor="end" font-weight="normal" fill="#161616" >-23</text>
<line x1="39.0" y1="569.2" x2="41.3" y2="569.2" stroke="#454545" stroke-width="0.8"/>
<text x="37.9" y="571.8000000000001" font-size="9" text-anchor="end" font-weight="normal" fill="#161616" >-28</text>
<line x1="41.30" y1="573.2" x2="41.30" y2="575.4000000000001" stroke="#454545" stroke-width="0.8"/>
<text x="41.30" y="584.3" font-size="9" text-anchor="middle" font-weight="normal" fill="#161616" >1530</text>
<line x1="83.75" y1="573.2" x2="83.75" y2="575.4000000000001" stroke="#454545" stroke-width="0.8"/>
<text x="83.75" y="584.3" font-size="9" text-anchor="middle" font-weight="normal" fill="#161616" >1540</text>
<line x1="126.20" y1="573.2" x2="126.20" y2="575.4000000000001" stroke="#454545" stroke-width="0.8"/>
<text x="126.20" y="584.3" font-size="9" text-anchor="middle" font-weight="normal" fill="#161616" >1550</text>
<line x1="168.65" y1="573.2" x2="168.65" y2="575.4000000000001" stroke="#454545" stroke-width="0.8"/>
<text x="168.65" y="584.3" font-size="9" text-anchor="middle" font-weight="normal" fill="#161616" >1560</text>
<line x1="211.10" y1="573.2" x2="211.10" y2="575.4000000000001" stroke="#454545" stroke-width="0.8"/>
<text x="211.10" y="584.3" font-size="9" text-anchor="middle" font-weight="normal" fill="#161616" >1570</text>
<text x="127.20" y="594.6" font-size="9.45" text-anchor="middle" font-weight="normal" fill="#161616" >Wavelength(nm)</text>
<text x="0" y="0" font-size="9.3" fill="#161616" text-anchor="middle" transform="translate(19.9,515) rotate(-90)">Transmission(dB)</text>
<line x1="151.2" y1="471.6" x2="169.5" y2="471.6" stroke="#0a0a0a" stroke-width="1.4"/>
<text x="172.3" y="474.90000000000003" font-size="9.2" fill="#161616" text-anchor="start">TE<tspan font-size="6.62" dy="2.6">0</tspan><tspan dy="-2.6">-TE</tspan><tspan font-size="6.62" dy="2.6">0</tspan></text>
<line x1="151.2" y1="485.4" x2="169.5" y2="485.4" stroke="#ff0000" stroke-width="1.4"/>
<text x="172.3" y="488.7" font-size="9.2" fill="#161616" text-anchor="start">TE<tspan font-size="6.62" dy="2.6">0</tspan><tspan dy="-2.6">-TE</tspan><tspan font-size="6.62" dy="2.6">1</tspan></text>
<line x1="151.2" y1="498.9" x2="169.5" y2="498.9" stroke="#0000ff" stroke-width="1.4"/>
<text x="172.3" y="502.2" font-size="9.2" fill="#161616" text-anchor="start">TE<tspan font-size="6.62" dy="2.6">0</tspan><tspan dy="-2.6">-TE</tspan><tspan font-size="6.62" dy="2.6">2</tspan></text>
<polygon points="64.20,516.60 65.87,520.81 70.35,520.15 67.54,523.70 70.35,527.25 65.87,526.59 64.20,530.80 62.53,526.59 58.05,527.25 60.86,523.70 58.05,520.15 62.53,520.81" fill="#3d8fd1"/>
<text x="69.5" y="521" font-size="9" text-anchor="start" font-weight="normal" fill="#161616" >16.2 dB</text>
<text x="11.2" y="457.8" font-size="9" text-anchor="start" font-weight="bold" fill="#111" >i</text>
<clipPath id="clip4"><rect x="269.7" y="453.6" width="169.5" height="119.89999999999998"/></clipPath>
<rect x="269.7" y="453.6" width="169.5" height="119.89999999999998" fill="#ffffff"/>
<g clip-path="url(#clip4)" fill="none" stroke-linejoin="round" stroke-linecap="round">
<path d="M269.70,457.21 L270.02,457.18 L270.37,457.20 L270.76,457.42 L271.18,457.30 L271.64,456.95 L272.12,457.13 L272.63,457.51 L273.16,457.45 L273.72,457.00 L274.30,457.35 L274.90,457.14 L275.52,456.91 L276.15,456.91 L276.80,457.39 L277.47,457.44 L278.14,457.45 L278.83,456.81 L279.52,457.36 L280.22,456.67 L280.92,457.02 L281.62,457.25 L282.33,457.10 L283.04,457.12 L283.74,457.16 L284.43,456.77 L285.13,456.76 L285.81,456.58 L286.48,457.03 L287.14,456.77 L287.79,456.93 L288.42,456.51 L289.04,456.60 L289.64,456.29 L290.21,456.87 L290.77,456.43 L291.30,456.28 L292.00,456.85 L292.68,456.32 L293.33,456.33 L293.96,456.66 L294.57,456.37 L295.16,456.55 L295.74,456.19 L296.30,456.30 L296.86,456.00 L297.40,456.00 L297.94,455.93 L298.48,455.83 L299.02,455.96 L299.56,455.60 L300.10,456.04 L300.65,455.74 L301.20,455.83 L301.77,455.23 L302.35,455.81 L302.95,455.19 L303.57,455.50 L304.20,455.62 L304.86,455.33 L305.55,455.69 L306.26,455.55 L307.00,455.29 L307.51,455.33 L308.03,455.28 L308.55,455.49 L309.09,455.42 L309.63,455.55 L310.18,455.08 L310.74,455.24 L311.30,455.63 L311.87,455.62 L312.45,455.44 L313.03,455.65 L313.62,455.42 L314.21,455.41 L314.81,455.82 L315.41,455.25 L316.02,455.40 L316.64,455.91 L317.25,455.83 L317.88,455.49 L318.50,456.17 L319.13,456.14 L319.76,456.05 L320.39,456.17 L321.03,455.78 L321.67,456.20 L322.31,456.43 L322.95,455.94 L323.60,455.86 L324.24,456.23 L324.89,456.05 L325.54,455.98 L326.18,456.33 L326.83,456.61 L327.48,456.58 L328.12,456.07 L328.77,456.64 L329.41,456.79 L330.06,456.89 L330.70,456.26 L331.28,456.38 L331.87,456.35 L332.46,456.86 L333.05,456.64 L333.64,456.61 L334.24,457.11 L334.83,456.55 L335.43,456.93 L336.04,457.23 L336.64,456.68 L337.25,456.80 L337.85,456.91 L338.46,457.12 L339.07,457.46 L339.69,457.38 L340.30,457.08 L340.91,457.08 L341.53,457.36 L342.15,457.65 L342.77,457.19 L343.38,457.74 L344.00,457.17 L344.62,457.54 L345.24,457.50 L345.87,457.80 L346.49,457.99 L347.11,457.77 L347.73,457.56 L348.35,457.95 L348.97,457.40 L349.59,457.66 L350.22,457.63 L350.84,458.02 L351.46,457.77 L352.08,458.12 L352.70,457.75 L353.31,458.23 L353.93,457.77 L354.55,458.37 L355.16,458.52 L355.78,458.60 L356.39,457.96 L357.00,458.54 L357.61,458.61 L358.22,458.73 L358.83,458.90 L359.44,458.79 L360.05,458.84 L360.66,458.37 L361.27,458.52 L361.88,459.24 L362.49,458.76 L363.10,458.61 L363.71,459.21 L364.32,459.08 L364.93,459.53 L365.53,459.59 L366.14,459.68 L366.75,459.39 L367.36,459.46 L367.97,459.65 L368.58,459.35 L369.19,459.30 L369.80,459.81 L370.40,459.98 L371.01,460.25 L371.62,460.20 L372.23,459.85 L372.84,459.91 L373.45,460.47 L374.06,460.28 L374.67,460.12 L375.27,460.05 L375.88,460.24 L376.49,460.24 L377.10,460.38 L377.71,460.41 L378.32,460.79 L378.93,460.72 L379.54,460.96 L380.15,460.84 L380.76,460.90 L381.37,460.81 L381.98,460.70 L382.59,460.59 L383.20,461.17 L383.81,460.99 L384.42,461.06 L385.02,461.26 L385.63,461.28 L386.23,461.08 L386.84,460.94 L387.44,461.02 L388.04,461.22 L388.64,461.02 L389.24,461.12 L389.84,461.02 L390.44,461.11 L391.04,461.37 L391.63,461.39 L392.23,461.53 L392.83,461.60 L393.43,461.28 L394.03,461.25 L394.63,461.93 L395.23,461.42 L395.83,461.26 L396.43,461.60 L397.04,461.49 L397.64,461.81 L398.25,461.82 L398.85,461.89 L399.46,461.33 L400.07,461.55 L400.68,461.90 L401.30,461.46 L401.91,461.52 L402.53,461.89 L403.15,462.08 L403.77,461.81 L404.40,461.38 L405.02,461.81 L405.65,461.74 L406.29,461.53 L406.92,461.72 L407.56,461.82 L408.20,462.07 L408.85,462.15 L409.50,461.76 L410.08,462.08 L410.67,461.58 L411.28,461.93 L411.90,461.96 L412.53,461.51 L413.17,461.40 L413.82,461.74 L414.49,461.39 L415.16,461.48 L415.83,461.66 L416.52,461.77 L417.21,461.88 L417.90,462.09 L418.60,461.57 L419.31,462.04 L420.01,462.06 L420.72,461.89 L421.43,461.78 L422.14,461.83 L422.84,461.46 L423.55,461.89 L424.25,461.71 L424.95,461.33 L425.65,461.69 L426.34,461.26 L427.02,461.27 L427.70,461.68 L428.37,461.34 L429.03,461.92 L429.69,461.19 L430.33,461.66 L430.96,461.65 L431.58,461.18 L432.19,461.75 L432.78,461.84 L433.36,461.74 L433.92,461.78 L434.47,461.59 L435.00,461.53 L435.52,460.98 L436.01,461.05 L436.49,461.53 L436.94,461.61 L437.38,461.20 L437.79,461.31 L438.18,461.50 L438.54,460.95 L438.88,461.13 L439.20,461.30" stroke="#ff0000" stroke-width="1.75"/>
<path d="M269.70,557.87 L270.02,558.08 L270.38,558.89 L270.78,559.89 L271.22,560.00 L271.69,558.12 L272.19,560.80 L272.71,560.13 L273.27,558.59 L273.85,559.71 L274.45,558.85 L275.07,559.79 L275.71,559.60 L276.37,559.22 L277.04,561.63 L277.72,559.74 L278.41,561.30 L279.10,560.27 L279.81,561.79 L280.51,560.63 L281.22,562.29 L281.92,562.25 L282.62,560.45 L283.32,562.40 L284.01,562.16 L284.68,562.29 L285.35,560.71 L286.00,562.08 L286.58,562.07 L287.15,560.27 L287.72,560.16 L288.29,562.05 L288.85,560.16 L289.42,559.82 L289.98,561.19 L290.55,561.94 L291.12,559.84 L291.69,561.91 L292.26,560.23 L292.83,559.81 L293.41,560.39 L293.99,560.89 L294.57,559.93 L295.17,559.13 L295.77,558.38 L296.37,558.56 L296.98,557.16 L297.60,559.21 L298.23,557.61 L298.87,559.25 L299.52,558.13 L300.18,556.44 L300.85,555.97 L301.53,556.79 L302.23,556.36 L302.94,557.39 L303.66,556.09 L304.40,556.45 L304.93,556.95 L305.46,556.24 L306.01,555.78 L306.58,555.30 L307.15,556.18 L307.73,554.62 L308.32,555.46 L308.92,556.56 L309.52,556.91 L310.14,554.76 L310.76,554.52 L311.39,556.21 L312.02,554.24 L312.66,556.10 L313.30,554.95 L313.95,556.34 L314.60,554.40 L315.25,555.18 L315.91,554.27 L316.56,553.67 L317.22,556.16 L317.88,555.14 L318.54,555.30 L319.19,554.45 L319.85,555.91 L320.50,553.54 L321.15,554.13 L321.80,556.23 L322.44,553.56 L323.08,555.93 L323.71,555.52 L324.34,554.44 L324.96,553.46 L325.58,554.43 L326.18,553.41 L326.78,555.32 L327.37,554.23 L327.95,554.43 L328.52,553.54 L329.09,555.16 L329.64,555.27 L330.17,553.54 L330.70,554.63 L331.43,553.36 L332.15,553.55 L332.85,554.79 L333.53,551.79 L334.19,553.19 L334.84,553.61 L335.48,553.34 L336.11,553.27 L336.72,553.31 L337.32,550.97 L337.92,552.25 L338.50,551.38 L339.08,552.08 L339.66,550.32 L340.23,550.97 L340.80,551.95 L341.37,551.70 L341.93,549.89 L342.50,551.21 L343.07,548.73 L343.64,549.52 L344.21,549.78 L344.79,548.81 L345.38,550.96 L345.97,549.75 L346.58,549.64 L347.19,550.36 L347.81,549.99 L348.45,549.05 L349.10,549.33 L349.67,549.59 L350.24,548.08 L350.82,549.07 L351.41,549.30 L352.01,549.93 L352.61,548.63 L353.22,550.26 L353.83,551.46 L354.44,551.59 L355.06,549.75 L355.68,550.59 L356.31,552.00 L356.93,552.22 L357.56,551.63 L358.19,550.60 L358.82,550.84 L359.45,553.15 L360.08,553.67 L360.70,551.59 L361.33,551.76 L361.95,553.26 L362.57,554.21 L363.18,554.95 L363.80,553.26 L364.40,554.00 L365.01,555.08 L365.60,555.98 L366.19,553.52 L366.77,553.88 L367.35,554.34 L367.92,555.96 L368.48,554.51 L369.03,554.99 L369.57,557.17 L370.10,555.92 L370.80,558.09 L371.49,557.88 L372.16,557.78 L372.82,556.05 L373.47,558.26 L374.10,556.70 L374.73,556.21 L375.35,558.92 L375.96,559.48 L376.56,558.98 L377.16,558.41 L377.75,559.72 L378.33,559.22 L378.91,558.70 L379.49,560.35 L380.07,558.97 L380.64,559.90 L381.22,560.68 L381.79,560.58 L382.37,558.76 L382.95,559.92 L383.53,559.10 L384.11,560.90 L384.70,559.15 L385.30,561.39 L385.90,559.36 L386.51,561.97 L387.12,559.67 L387.73,560.86 L388.35,562.15 L388.96,560.70 L389.58,560.77 L390.20,562.33 L390.82,560.84 L391.44,563.46 L392.06,563.57 L392.68,561.55 L393.30,563.57 L393.91,562.38 L394.53,563.53 L395.14,564.67 L395.75,564.46 L396.35,563.46 L396.96,562.51 L397.56,562.84 L398.15,564.06 L398.74,565.09 L399.32,565.36 L399.90,563.73 L400.47,564.43 L401.04,563.53 L401.60,562.98 L402.28,565.07 L402.96,562.59 L403.62,562.64 L404.27,563.11 L404.92,562.15 L405.56,562.36 L406.19,563.20 L406.82,562.51 L407.44,562.05 L408.05,562.19 L408.67,561.13 L409.28,561.56 L409.89,561.86 L410.50,559.45 L411.11,559.48 L411.72,557.82 L412.33,559.67 L412.94,557.42 L413.56,557.41 L414.18,557.97 L414.80,556.94 L415.43,558.51 L416.06,557.78 L416.69,558.30 L417.33,556.80 L417.96,556.45 L418.60,556.61 L419.24,555.73 L419.88,555.20 L420.52,555.19 L421.15,555.50 L421.79,554.88 L422.42,556.53 L423.05,554.05 L423.67,556.31 L424.29,555.74 L424.91,554.68 L425.52,554.24 L426.12,555.18 L426.72,555.50 L427.32,552.78 L427.90,552.93 L428.59,552.06 L429.30,554.49 L430.02,553.78 L430.75,553.77 L431.48,551.67 L432.22,551.84 L432.95,552.79 L433.67,550.42 L434.37,551.99 L435.05,549.80 L435.71,550.34 L436.34,547.99 L436.93,548.90 L437.48,547.26 L437.99,547.29 L438.45,546.72 L438.85,547.34 L439.20,547.70" stroke="#0a0a0a" stroke-width="3.4"/>
<path d="M267.00,539.35 L267.17,539.56 L267.33,539.44 L268.01,540.17 L269.70,540.60 L270.07,540.46 L270.48,540.68 L270.93,541.52 L271.41,541.53 L271.93,541.86 L272.47,541.24 L273.04,541.73 L273.63,542.42 L274.24,542.28 L274.87,542.18 L275.52,542.68 L276.18,543.47 L276.85,543.37 L277.54,543.87 L278.22,543.69 L278.91,544.28 L279.60,544.75 L280.29,544.79 L280.98,544.76 L281.66,545.51 L282.32,545.36 L282.98,545.91 L283.62,546.44 L284.25,546.53 L284.86,546.36 L285.44,546.75 L286.00,546.94 L286.70,547.22 L287.38,547.58 L288.06,547.84 L288.73,548.67 L289.39,549.16 L290.04,549.38 L290.68,549.47 L291.32,549.86 L291.95,550.77 L292.57,550.59 L293.19,551.23 L293.80,551.76 L294.41,551.42 L295.02,552.44 L295.62,552.75 L296.22,552.86 L296.82,553.40 L297.41,553.98 L298.01,554.17 L298.61,554.68 L299.20,554.65 L299.86,555.46 L300.53,556.28 L301.20,557.03 L301.88,557.26 L302.55,557.46 L303.23,558.16 L303.90,559.23 L304.56,559.35 L305.22,559.92 L305.87,560.87 L306.51,561.50 L307.14,561.80 L307.75,562.95 L308.34,562.99 L308.92,563.99 L309.48,564.44 L310.01,564.52 L310.52,565.36 L311.00,565.50 L311.84,566.57 L312.59,566.76 L313.26,567.57 L313.87,567.94 L314.43,569.24 L314.95,569.51 L315.46,569.57 L315.96,570.36 L316.47,570.80 L317.00,570.62 L317.58,571.56 L318.02,571.62 L318.38,571.81 L318.75,572.17 L319.22,572.76 L319.86,572.71 L320.76,572.84 L322.00,572.82 L322.40,572.62 L322.85,573.02 L323.33,572.99 L323.85,573.28 L324.39,573.22 L324.97,573.22 L325.57,572.72 L326.19,572.80 L326.84,572.72 L327.50,572.80 L328.18,573.06 L328.86,573.22 L329.56,572.83 L330.26,573.42 L330.97,572.78 L331.67,572.89 L332.38,573.24 L333.08,573.13 L333.77,572.85 L334.44,573.22 L335.11,572.56 L335.76,573.01 L336.39,572.54 L336.99,573.02 L337.57,572.89 L338.13,572.98 L338.65,573.04 L339.14,572.53 L339.59,572.51 L340.00,572.94 L341.17,573.07 L342.08,573.00 L342.80,573.06 L343.36,573.03 L343.81,572.43 L344.20,572.31 L344.59,572.44 L345.00,572.80 L345.50,571.93 L346.16,571.93 L346.74,571.30 L347.29,570.93 L347.85,570.97 L348.46,570.40 L349.16,570.07 L350.00,569.65 L350.52,569.06 L351.10,569.15 L351.71,568.70 L352.36,568.29 L353.03,568.51 L353.72,567.80 L354.42,567.66 L355.12,567.55 L355.82,567.91 L356.50,566.89 L357.17,567.47 L357.80,567.29 L358.40,566.94 L359.08,567.26 L359.74,566.65 L360.39,566.83 L361.02,567.62 L361.64,567.36 L362.24,567.72 L362.83,567.39 L363.40,568.29 L363.95,568.18 L364.49,567.98 L365.00,568.51 L365.76,569.29 L366.47,569.01 L367.13,570.08 L367.75,570.05 L368.35,570.43 L368.93,570.93 L369.50,571.55 L369.92,571.82 L369.94,572.44 L370.10,572.83 L370.94,572.86 L373.00,573.24 L373.37,572.52 L373.77,573.12 L374.21,572.94 L374.68,572.54 L375.18,572.88 L375.71,572.64 L376.27,572.58 L376.86,573.19 L377.46,572.89 L378.09,573.34 L378.74,573.42 L379.41,572.84 L380.09,572.70 L380.79,573.54 L381.50,573.27 L382.22,573.55 L382.95,573.32 L383.68,573.05 L384.42,572.70 L385.16,572.83 L385.90,573.26 L386.64,573.07 L387.38,573.26 L388.12,573.57 L388.84,573.57 L389.56,573.17 L390.27,573.37 L390.96,573.43 L391.64,573.08 L392.31,573.33 L392.95,573.18 L393.58,572.84 L394.18,572.71 L394.76,573.13 L395.32,572.90 L395.85,573.30 L396.34,573.36 L396.81,572.87 L397.24,573.21 L397.64,572.73 L398.00,572.89 L399.94,572.51 L400.58,572.89 L400.55,571.77 L400.48,571.21 L401.00,570.43 L401.48,569.45 L401.99,569.32 L402.54,568.13 L403.12,567.61 L403.73,567.06 L404.38,565.75 L405.07,565.09 L405.79,563.55 L406.55,562.81 L407.36,561.77 L408.20,560.56 L408.71,559.46 L409.25,558.78 L409.82,558.31 L410.41,557.72 L411.01,556.68 L411.63,555.87 L412.27,555.17 L412.91,554.01 L413.56,553.33 L414.22,552.33 L414.89,551.08 L415.55,550.28 L416.21,549.32 L416.87,548.35 L417.52,547.42 L418.16,546.77 L418.79,546.43 L419.40,545.05 L420.00,544.47 L420.66,544.18 L421.32,543.53 L421.98,542.41 L422.64,541.66 L423.30,540.98 L423.96,540.66 L424.61,539.79 L425.26,539.46 L425.89,538.37 L426.52,537.91 L427.13,537.67 L427.74,536.39 L428.33,536.22 L428.90,535.36 L429.45,535.11 L429.99,534.22 L430.50,534.45 L431.27,533.13 L432.03,532.41 L432.76,531.42 L433.46,531.36 L434.14,530.69 L434.77,530.16 L435.35,529.17 L435.88,528.61 L436.35,528.56 L436.76,527.98 L437.10,527.50" stroke="#0000ff" stroke-width="1.75"/>
</g>
<rect x="269.7" y="453.6" width="169.5" height="119.89999999999998" fill="none" stroke="#454545" stroke-width="0.9"/>
<line x1="267.4" y1="458.2" x2="269.7" y2="458.2" stroke="#454545" stroke-width="0.8"/>
<text x="266.3" y="460.8" font-size="9" text-anchor="end" font-weight="normal" fill="#161616" >-3</text>
<line x1="267.4" y1="480.3" x2="269.7" y2="480.3" stroke="#454545" stroke-width="0.8"/>
<text x="266.3" y="482.90000000000003" font-size="9" text-anchor="end" font-weight="normal" fill="#161616" >-8</text>
<line x1="267.4" y1="502.3" x2="269.7" y2="502.3" stroke="#454545" stroke-width="0.8"/>
<text x="266.3" y="504.90000000000003" font-size="9" text-anchor="end" font-weight="normal" fill="#161616" >-13</text>
<line x1="267.4" y1="524.4" x2="269.7" y2="524.4" stroke="#454545" stroke-width="0.8"/>
<text x="266.3" y="527.0" font-size="9" text-anchor="end" font-weight="normal" fill="#161616" >-18</text>
<line x1="267.4" y1="546.5" x2="269.7" y2="546.5" stroke="#454545" stroke-width="0.8"/>
<text x="266.3" y="549.1" font-size="9" text-anchor="end" font-weight="normal" fill="#161616" >-23</text>
<line x1="267.4" y1="568.6" x2="269.7" y2="568.6" stroke="#454545" stroke-width="0.8"/>
<text x="266.3" y="571.2" font-size="9" text-anchor="end" font-weight="normal" fill="#161616" >-28</text>
<line x1="269.70" y1="573.5" x2="269.70" y2="575.7" stroke="#454545" stroke-width="0.8"/>
<text x="269.70" y="584.3" font-size="9" text-anchor="middle" font-weight="normal" fill="#161616" >1530</text>
<line x1="312.07" y1="573.5" x2="312.07" y2="575.7" stroke="#454545" stroke-width="0.8"/>
<text x="312.07" y="584.3" font-size="9" text-anchor="middle" font-weight="normal" fill="#161616" >1540</text>
<line x1="354.45" y1="573.5" x2="354.45" y2="575.7" stroke="#454545" stroke-width="0.8"/>
<text x="354.45" y="584.3" font-size="9" text-anchor="middle" font-weight="normal" fill="#161616" >1550</text>
<line x1="396.82" y1="573.5" x2="396.82" y2="575.7" stroke="#454545" stroke-width="0.8"/>
<text x="396.82" y="584.3" font-size="9" text-anchor="middle" font-weight="normal" fill="#161616" >1560</text>
<line x1="439.20" y1="573.5" x2="439.20" y2="575.7" stroke="#454545" stroke-width="0.8"/>
<text x="439.20" y="584.3" font-size="9" text-anchor="middle" font-weight="normal" fill="#161616" >1570</text>
<text x="355.45" y="594.4" font-size="9.45" text-anchor="middle" font-weight="normal" fill="#161616" >Wavelength(nm)</text>
<line x1="379.3" y1="471" x2="397.7" y2="471" stroke="#0a0a0a" stroke-width="1.4"/>
<text x="400.3" y="474.3" font-size="9.2" fill="#161616" text-anchor="start">TE<tspan font-size="6.62" dy="2.6">1</tspan><tspan dy="-2.6">-TE</tspan><tspan font-size="6.62" dy="2.6">0</tspan></text>
<line x1="379.3" y1="484.7" x2="397.7" y2="484.7" stroke="#ff0000" stroke-width="1.4"/>
<text x="400.3" y="488.0" font-size="9.2" fill="#161616" text-anchor="start">TE<tspan font-size="6.62" dy="2.6">1</tspan><tspan dy="-2.6">-TE</tspan><tspan font-size="6.62" dy="2.6">1</tspan></text>
<line x1="379.3" y1="498.6" x2="397.7" y2="498.6" stroke="#0000ff" stroke-width="1.4"/>
<text x="400.3" y="501.90000000000003" font-size="9.2" fill="#161616" text-anchor="start">TE<tspan font-size="6.62" dy="2.6">1</tspan><tspan dy="-2.6">-TE</tspan><tspan font-size="6.62" dy="2.6">2</tspan></text>
<polygon points="436.30,520.90 437.97,525.11 442.45,524.45 439.64,528.00 442.45,531.55 437.97,530.89 436.30,535.10 434.63,530.89 430.15,531.55 432.96,528.00 430.15,524.45 434.63,525.11" fill="#3d8fd1"/>
<text x="391.1" y="527.3" font-size="9" text-anchor="start" font-weight="normal" fill="#161616" >15.1 dB</text>
<text x="241.2" y="457.9" font-size="9" text-anchor="start" font-weight="bold" fill="#111" >j</text>
<clipPath id="clip5"><rect x="497.7" y="454" width="169.90000000000003" height="119.5"/></clipPath>
<rect x="497.7" y="454" width="169.90000000000003" height="119.5" fill="#ffffff"/>
<g clip-path="url(#clip5)" fill="none" stroke-linejoin="round" stroke-linecap="round">
<path d="M497.70,458.08 L498.02,458.00 L498.37,458.17 L498.75,458.01 L499.16,457.93 L499.59,457.84 L500.06,457.92 L500.54,457.48 L501.06,457.35 L501.59,457.95 L502.14,457.55 L502.72,457.51 L503.31,457.93 L503.91,457.51 L504.54,457.34 L505.18,457.65 L505.83,457.74 L506.49,457.83 L507.16,457.28 L507.84,457.40 L508.53,457.37 L509.23,457.00 L509.93,457.10 L510.63,457.23 L511.34,457.32 L512.05,456.89 L512.75,456.96 L513.46,457.32 L514.16,456.68 L514.86,457.39 L515.55,457.12 L516.23,456.74 L516.91,457.18 L517.58,456.54 L518.23,456.64 L518.88,456.85 L519.51,456.39 L520.12,456.76 L520.72,456.88 L521.30,456.68 L521.94,456.92 L522.57,456.30 L523.19,456.70 L523.82,456.80 L524.44,456.48 L525.05,455.95 L525.67,456.06 L526.28,455.90 L526.88,456.14 L527.49,456.06 L528.09,455.80 L528.69,456.11 L529.29,456.05 L529.89,455.74 L530.48,455.38 L531.08,455.39 L531.67,455.71 L532.26,455.67 L532.85,455.36 L533.44,455.60 L534.02,455.46 L534.61,455.29 L535.20,455.53 L535.79,455.29 L536.38,455.54 L536.96,455.42 L537.55,455.44 L538.14,455.01 L538.73,455.22 L539.32,454.69 L539.92,454.78 L540.51,455.19 L541.10,455.14 L541.70,455.06 L542.30,454.47 L542.90,454.29 L543.50,454.33 L544.09,454.21 L544.68,454.42 L545.28,454.13 L545.87,454.28 L546.46,454.37 L547.05,454.02 L547.63,454.49 L548.22,454.61 L548.81,454.20 L549.40,453.94 L549.98,453.97 L550.57,454.09 L551.16,454.06 L551.75,454.15 L552.34,454.19 L552.93,454.13 L553.52,453.80 L554.11,453.86 L554.71,454.31 L555.30,454.26 L555.90,453.81 L556.50,453.66 L557.10,454.18 L557.71,454.28 L558.32,453.90 L558.93,453.69 L559.54,453.56 L560.16,453.53 L560.78,453.70 L561.40,453.72 L562.03,454.27 L562.66,454.12 L563.30,453.77 L563.87,453.79 L564.45,454.21 L565.03,454.20 L565.61,453.88 L566.19,454.07 L566.77,454.00 L567.36,454.44 L567.94,454.40 L568.53,454.06 L569.12,454.33 L569.72,454.51 L570.31,454.58 L570.91,454.46 L571.51,454.10 L572.10,454.85 L572.71,454.32 L573.31,454.84 L573.91,454.78 L574.52,454.34 L575.13,455.06 L575.74,454.80 L576.35,454.93 L576.96,455.08 L577.58,455.31 L578.20,454.74 L578.81,455.10 L579.43,454.91 L580.06,455.51 L580.68,455.28 L581.30,455.07 L581.93,455.51 L582.56,455.80 L583.19,455.93 L583.82,455.58 L584.45,455.29 L585.09,455.46 L585.72,455.56 L586.36,455.50 L587.00,456.08 L587.58,455.75 L588.17,455.81 L588.75,455.61 L589.34,455.60 L589.93,456.21 L590.53,456.06 L591.12,456.05 L591.72,455.68 L592.32,455.93 L592.92,456.23 L593.52,456.08 L594.13,456.42 L594.73,455.89 L595.34,455.88 L595.95,456.51 L596.56,456.17 L597.17,456.30 L597.79,456.24 L598.40,456.04 L599.01,455.92 L599.63,455.94 L600.25,456.38 L600.86,456.11 L601.48,456.06 L602.10,455.96 L602.72,456.03 L603.34,456.26 L603.95,455.96 L604.57,456.21 L605.19,456.19 L605.81,456.48 L606.43,456.57 L607.05,456.32 L607.67,456.13 L608.28,456.22 L608.90,456.43 L609.52,456.31 L610.13,456.33 L610.75,456.51 L611.36,456.84 L611.98,456.16 L612.59,456.96 L613.20,456.90 L613.81,456.26 L614.43,456.99 L615.05,456.51 L615.67,456.51 L616.30,456.46 L616.93,456.58 L617.56,456.88 L618.20,457.05 L618.83,456.79 L619.47,456.72 L620.11,456.91 L620.75,457.07 L621.40,456.87 L622.04,457.08 L622.68,457.12 L623.32,457.20 L623.96,457.00 L624.60,457.29 L625.24,456.97 L625.88,456.74 L626.52,457.33 L627.15,456.85 L627.79,456.93 L628.42,457.28 L629.04,457.11 L629.67,457.10 L630.29,456.98 L630.91,457.29 L631.52,457.60 L632.13,457.73 L632.73,457.76 L633.33,457.12 L633.92,457.25 L634.51,457.65 L635.09,457.59 L635.67,457.76 L636.24,457.86 L636.80,457.36 L637.36,457.46 L637.90,457.61 L638.44,457.78 L638.98,457.65 L639.50,458.07 L640.24,458.35 L640.97,458.17 L641.70,458.45 L642.42,458.40 L643.12,458.61 L643.82,458.26 L644.52,458.11 L645.20,458.42 L645.87,458.95 L646.54,458.71 L647.20,458.52 L647.85,458.92 L648.49,459.31 L649.12,458.85 L649.74,458.95 L650.35,459.06 L650.95,459.40 L651.55,459.34 L652.13,459.49 L652.70,459.80 L653.27,460.06 L653.82,460.11 L654.37,460.36 L654.90,460.35 L655.43,459.94 L655.94,460.58 L656.45,460.16 L656.94,460.35 L657.43,460.76 L657.90,460.52 L658.76,460.50 L659.60,460.98 L660.40,460.97 L661.16,460.98 L661.90,460.67 L662.60,460.82 L663.27,461.28 L663.90,461.46 L664.50,461.17 L665.06,461.49 L665.58,461.29 L666.06,461.42 L666.51,460.90 L666.91,461.42 L667.28,461.15 L667.60,461.30" stroke="#0000ff" stroke-width="1.75"/>
<path d="M497.70,531.80 L498.02,532.14 L498.38,531.98 L498.76,532.80 L499.18,532.29 L499.63,532.63 L500.11,532.52 L500.61,532.79 L501.14,532.57 L501.70,533.23 L502.27,532.98 L502.87,532.78 L503.48,533.02 L504.11,533.11 L504.76,533.56 L505.42,534.25 L506.09,533.49 L506.77,534.08 L507.47,534.85 L508.17,534.78 L508.87,534.91 L509.58,534.83 L510.30,535.32 L511.01,535.18 L511.72,535.46 L512.44,535.34 L513.14,535.63 L513.85,535.34 L514.54,535.85 L515.23,535.96 L515.91,535.99 L516.58,536.41 L517.23,537.11 L517.87,536.39 L518.49,536.96 L519.09,537.17 L519.68,537.63 L520.24,537.76 L520.78,538.11 L521.30,537.73 L522.05,538.19 L522.77,538.22 L523.48,538.34 L524.16,538.63 L524.83,539.80 L525.49,539.10 L526.13,539.76 L526.75,539.46 L527.37,540.44 L527.97,540.42 L528.56,540.59 L529.14,540.99 L529.72,541.43 L530.29,541.98 L530.85,542.01 L531.41,541.65 L531.96,542.66 L532.52,543.15 L533.07,543.22 L533.62,543.24 L534.17,543.91 L534.73,543.32 L535.29,544.27 L535.85,544.07 L536.42,544.21 L537.00,544.06 L537.63,544.74 L538.26,545.31 L538.89,545.28 L539.52,546.16 L540.15,546.09 L540.77,545.71 L541.40,545.88 L542.02,546.73 L542.64,547.11 L543.26,546.72 L543.88,547.53 L544.49,547.94 L545.10,547.67 L545.71,547.87 L546.31,548.20 L546.91,549.04 L547.50,548.80 L548.09,549.26 L548.68,549.45 L549.25,549.61 L549.82,550.06 L550.39,549.25 L550.95,550.03 L551.50,549.42 L552.18,549.76 L552.82,549.56 L553.45,550.52 L554.05,549.84 L554.63,550.51 L555.20,549.91 L555.76,550.01 L556.32,549.47 L556.88,550.09 L557.44,549.92 L558.00,549.27 L558.58,549.18 L559.18,548.65 L559.79,549.07 L560.43,549.01 L561.10,549.34 L561.79,548.89 L562.53,548.17 L563.30,549.05 L563.81,547.95 L564.34,548.03 L564.87,547.84 L565.42,548.78 L565.98,547.66 L566.56,548.70 L567.14,548.28 L567.73,548.03 L568.33,547.79 L568.94,548.42 L569.56,547.70 L570.18,548.39 L570.81,547.73 L571.45,548.22 L572.09,548.11 L572.73,547.63 L573.38,548.23 L574.02,547.55 L574.67,547.12 L575.32,547.68 L575.97,546.89 L576.62,546.83 L577.27,547.87 L577.91,546.77 L578.56,546.71 L579.20,546.61 L579.83,546.40 L580.46,547.02 L581.08,546.93 L581.70,546.10 L582.32,546.87 L582.94,546.04 L583.56,545.85 L584.19,545.85 L584.83,546.01 L585.46,546.17 L586.10,545.86 L586.74,545.54 L587.39,545.11 L588.03,545.87 L588.67,545.30 L589.31,545.19 L589.96,545.22 L590.59,544.81 L591.23,544.36 L591.87,544.11 L592.50,543.71 L593.12,544.73 L593.74,543.49 L594.36,544.03 L594.97,544.09 L595.57,543.53 L596.17,543.88 L596.76,542.78 L597.34,542.97 L597.91,543.34 L598.47,542.63 L599.03,543.01 L599.57,543.03 L600.10,542.78 L600.84,542.86 L601.55,542.08 L602.25,542.39 L602.92,542.39 L603.58,542.49 L604.23,541.39 L604.86,542.28 L605.47,541.74 L606.08,541.12 L606.68,541.49 L607.27,541.74 L607.86,541.46 L608.44,541.59 L609.02,540.78 L609.60,540.60 L610.19,541.22 L610.78,541.46 L611.37,540.33 L611.97,541.37 L612.58,540.90 L613.20,540.70 L613.82,540.38 L614.44,540.22 L615.06,540.01 L615.67,540.53 L616.28,540.59 L616.89,540.35 L617.50,540.36 L618.11,539.79 L618.72,539.19 L619.33,539.54 L619.95,539.54 L620.56,539.88 L621.18,539.86 L621.81,539.46 L622.44,539.32 L623.08,539.06 L623.73,538.53 L624.38,538.47 L625.04,538.10 L625.72,538.09 L626.40,538.17 L626.96,537.56 L627.51,537.42 L628.07,537.43 L628.62,536.96 L629.18,536.80 L629.74,536.71 L630.30,536.09 L630.87,536.38 L631.44,536.30 L632.01,536.48 L632.59,536.21 L633.17,535.11 L633.76,535.60 L634.35,535.62 L634.95,534.47 L635.55,534.09 L636.17,534.05 L636.79,534.08 L637.42,533.13 L638.06,532.96 L638.70,532.81 L639.36,532.46 L640.03,532.80 L640.71,532.54 L641.40,532.01 L642.10,531.18 L642.64,531.15 L643.20,531.41 L643.79,530.67 L644.39,530.04 L645.02,529.79 L645.66,530.09 L646.31,529.27 L646.98,529.03 L647.66,528.99 L648.35,528.86 L649.05,527.84 L649.75,527.62 L650.46,527.35 L651.16,527.40 L651.87,526.84 L652.58,526.49 L653.28,525.21 L653.98,525.57 L654.67,525.20 L655.35,525.00 L656.02,524.24 L656.68,524.34 L657.32,523.02 L657.94,523.10 L658.55,523.36 L659.14,522.50 L659.70,522.71 L660.24,521.80 L660.76,521.42 L661.25,521.30 L661.70,521.34 L662.13,520.75 L662.52,520.37 L662.88,520.20 L663.20,520.40" stroke="#ff0000" stroke-width="1.75"/>
<path d="M495.00,556.93 L495.37,556.09 L495.86,557.24 L496.60,556.57 L497.70,557.10 L498.13,558.02 L498.61,557.33 L499.12,557.65 L499.68,558.08 L500.26,558.10 L500.88,559.66 L501.51,558.92 L502.17,559.08 L502.83,560.53 L503.50,559.84 L504.17,560.15 L504.84,561.01 L505.50,561.16 L506.09,561.61 L506.72,562.54 L507.38,563.18 L508.06,564.04 L508.76,564.85 L509.46,565.75 L510.16,567.23 L510.85,567.36 L511.52,568.33 L512.17,568.28 L512.78,570.24 L513.34,570.02 L513.86,571.05 L514.31,570.91 L514.70,572.77 L515.93,574.69 L516.00,576.00" stroke="#0a0a0a" stroke-width="2.6"/>
<path d="M567.00,576.76 L567.14,576.52 L568.60,574.31 L568.98,573.66 L569.40,571.41 L569.85,572.02 L570.35,569.84 L570.88,570.40 L571.44,568.94 L572.03,566.94 L572.65,566.37 L573.29,565.08 L573.96,565.13 L574.65,563.08 L575.36,562.14 L576.08,561.18 L576.82,560.61 L577.57,559.14 L578.33,557.96 L579.10,558.00 L579.61,557.42 L580.14,556.70 L580.68,555.26 L581.23,556.40 L581.79,555.59 L582.37,554.89 L582.95,554.14 L583.54,553.65 L584.15,552.64 L584.76,552.82 L585.37,552.44 L585.99,551.09 L586.62,550.50 L587.25,550.51 L587.88,549.98 L588.52,550.48 L589.15,550.14 L589.79,548.30 L590.43,549.42 L591.06,547.35 L591.70,548.23 L592.33,547.80 L592.95,547.26 L593.57,546.14 L594.19,546.46 L594.80,545.72 L595.41,545.93 L596.02,545.62 L596.63,544.79 L597.24,544.14 L597.85,543.99 L598.47,544.09 L599.08,544.09 L599.70,543.29 L600.31,543.18 L600.93,542.24 L601.54,542.79 L602.16,542.19 L602.77,542.09 L603.39,542.95 L604.00,540.99 L604.61,541.62 L605.22,541.85 L605.83,541.97 L606.44,540.55 L607.04,540.44 L607.64,540.58 L608.24,540.53 L608.84,540.98 L609.43,539.99 L610.02,539.37 L610.60,539.53 L611.23,540.31 L611.86,539.34 L612.49,538.69 L613.12,538.42 L613.75,538.20 L614.38,538.09 L615.01,539.37 L615.63,537.84 L616.25,539.03 L616.87,538.53 L617.49,538.50 L618.10,537.71 L618.71,538.36 L619.32,537.16 L619.92,536.92 L620.51,537.17 L621.11,537.48 L621.70,537.89 L622.28,537.71 L622.85,537.00 L623.43,536.82 L623.99,537.29 L624.55,536.74 L625.10,537.98 L625.78,536.99 L626.44,538.27 L627.07,537.25 L627.69,537.74 L628.30,537.36 L628.89,537.66 L629.48,537.67 L630.06,538.04 L630.64,538.23 L631.21,539.70 L631.79,538.94 L632.38,540.61 L632.98,540.46 L633.59,540.60 L634.21,540.43 L634.85,541.93 L635.51,542.17 L636.19,541.74 L636.90,541.29 L637.44,541.72 L637.98,542.22 L638.54,542.00 L639.11,542.32 L639.69,542.42 L640.27,543.54 L640.87,542.92 L641.47,543.55 L642.07,544.96 L642.69,544.33 L643.30,545.68 L643.93,545.33 L644.55,545.77 L645.18,545.58 L645.81,546.88 L646.44,546.93 L647.06,546.37 L647.69,546.90 L648.32,547.23 L648.94,546.63 L649.57,548.36 L650.18,547.17 L650.80,547.73 L651.40,548.80 L652.01,548.53 L652.60,548.94 L653.22,548.41 L653.87,549.31 L654.53,548.15 L655.20,548.33 L655.88,548.99 L656.58,548.35 L657.27,549.85 L657.97,549.22 L658.67,549.92 L659.37,548.74 L660.06,550.37 L660.74,549.32 L661.42,548.68 L662.07,549.04 L662.71,550.27 L663.33,549.99 L663.93,548.87 L664.51,550.33 L665.06,549.74 L665.57,549.71 L666.05,549.53 L666.50,549.96 L666.91,548.98 L667.28,549.54 L667.60,549.80" stroke="#0a0a0a" stroke-width="2.6"/>
</g>
<rect x="497.7" y="454" width="169.90000000000003" height="119.5" fill="none" stroke="#454545" stroke-width="0.9"/>
<line x1="495.4" y1="454.3" x2="497.7" y2="454.3" stroke="#454545" stroke-width="0.8"/>
<text x="494.3" y="456.90000000000003" font-size="9" text-anchor="end" font-weight="normal" fill="#161616" >-3</text>
<line x1="495.4" y1="472.3" x2="497.7" y2="472.3" stroke="#454545" stroke-width="0.8"/>
<text x="494.3" y="474.90000000000003" font-size="9" text-anchor="end" font-weight="normal" fill="#161616" >-8</text>
<line x1="495.4" y1="490.3" x2="497.7" y2="490.3" stroke="#454545" stroke-width="0.8"/>
<text x="494.3" y="492.90000000000003" font-size="9" text-anchor="end" font-weight="normal" fill="#161616" >-13</text>
<line x1="495.4" y1="508.4" x2="497.7" y2="508.4" stroke="#454545" stroke-width="0.8"/>
<text x="494.3" y="511.0" font-size="9" text-anchor="end" font-weight="normal" fill="#161616" >-18</text>
<line x1="495.4" y1="526.4" x2="497.7" y2="526.4" stroke="#454545" stroke-width="0.8"/>
<text x="494.3" y="529.0" font-size="9" text-anchor="end" font-weight="normal" fill="#161616" >-23</text>
<line x1="495.4" y1="544.4" x2="497.7" y2="544.4" stroke="#454545" stroke-width="0.8"/>
<text x="494.3" y="547.0" font-size="9" text-anchor="end" font-weight="normal" fill="#161616" >-28</text>
<line x1="495.4" y1="562.4" x2="497.7" y2="562.4" stroke="#454545" stroke-width="0.8"/>
<text x="494.3" y="565.0" font-size="9" text-anchor="end" font-weight="normal" fill="#161616" >-33</text>
<line x1="497.70" y1="573.5" x2="497.70" y2="575.7" stroke="#454545" stroke-width="0.8"/>
<text x="497.70" y="584.3" font-size="9" text-anchor="middle" font-weight="normal" fill="#161616" >1530</text>
<line x1="540.17" y1="573.5" x2="540.17" y2="575.7" stroke="#454545" stroke-width="0.8"/>
<text x="540.17" y="584.3" font-size="9" text-anchor="middle" font-weight="normal" fill="#161616" >1540</text>
<line x1="582.65" y1="573.5" x2="582.65" y2="575.7" stroke="#454545" stroke-width="0.8"/>
<text x="582.65" y="584.3" font-size="9" text-anchor="middle" font-weight="normal" fill="#161616" >1550</text>
<line x1="625.12" y1="573.5" x2="625.12" y2="575.7" stroke="#454545" stroke-width="0.8"/>
<text x="625.12" y="584.3" font-size="9" text-anchor="middle" font-weight="normal" fill="#161616" >1560</text>
<line x1="667.60" y1="573.5" x2="667.60" y2="575.7" stroke="#454545" stroke-width="0.8"/>
<text x="667.60" y="584.3" font-size="9" text-anchor="middle" font-weight="normal" fill="#161616" >1570</text>
<text x="583.65" y="594.4" font-size="9.45" text-anchor="middle" font-weight="normal" fill="#161616" >Wavelength(nm)</text>
<line x1="505" y1="471.5" x2="522.6" y2="471.5" stroke="#0a0a0a" stroke-width="1.4"/>
<text x="525.8" y="474.8" font-size="9.2" fill="#161616" text-anchor="start">TE<tspan font-size="6.62" dy="2.6">2</tspan><tspan dy="-2.6">-TE</tspan><tspan font-size="6.62" dy="2.6">0</tspan></text>
<line x1="505" y1="485.1" x2="522.6" y2="485.1" stroke="#ff0000" stroke-width="1.4"/>
<text x="525.8" y="488.40000000000003" font-size="9.2" fill="#161616" text-anchor="start">TE<tspan font-size="6.62" dy="2.6">2</tspan><tspan dy="-2.6">-TE</tspan><tspan font-size="6.62" dy="2.6">1</tspan></text>
<line x1="505" y1="498.8" x2="522.6" y2="498.8" stroke="#0000ff" stroke-width="1.4"/>
<text x="525.8" y="502.1" font-size="9.2" fill="#161616" text-anchor="start">TE<tspan font-size="6.62" dy="2.6">2</tspan><tspan dy="-2.6">-TE</tspan><tspan font-size="6.62" dy="2.6">2</tspan></text>
<polygon points="663.20,512.50 664.87,516.71 669.35,516.05 666.54,519.60 669.35,523.15 664.87,522.49 663.20,526.70 661.53,522.49 657.05,523.15 659.86,519.60 657.05,516.05 661.53,516.71" fill="#3d8fd1"/>
<text x="622.4" y="518.8" font-size="9" text-anchor="start" font-weight="normal" fill="#161616" >15.9 dB</text>
<text x="470.9" y="457" font-size="9" text-anchor="start" font-weight="bold" fill="#111" >k</text>
</svg></body></html>
